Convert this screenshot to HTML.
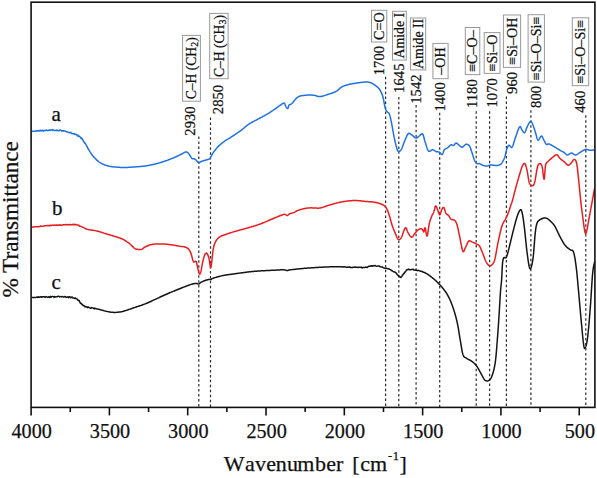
<!DOCTYPE html>
<html><head><meta charset="utf-8"><style>
html,body{margin:0;padding:0;background:#fff;width:597px;height:478px;overflow:hidden}
svg{display:block}
text{font-family:"Liberation Serif",serif;stroke:#111;stroke-width:0.25px}
</style></head><body>
<svg width="597" height="478" viewBox="0 0 597 478">
<rect width="597" height="478" fill="#fff"/>
<line x1="198.80" y1="136.60" x2="198.80" y2="407.40" stroke="#2a2a2a" stroke-width="1.2" stroke-dasharray="2.5 2.45"/>
<line x1="210.50" y1="117.50" x2="210.50" y2="407.40" stroke="#2a2a2a" stroke-width="1.2" stroke-dasharray="2.5 2.45"/>
<line x1="385.60" y1="76.80" x2="385.60" y2="407.40" stroke="#2a2a2a" stroke-width="1.2" stroke-dasharray="2.5 2.45"/>
<line x1="398.80" y1="96.90" x2="398.80" y2="407.40" stroke="#2a2a2a" stroke-width="1.2" stroke-dasharray="2.5 2.45"/>
<line x1="416.10" y1="105.00" x2="416.10" y2="407.40" stroke="#2a2a2a" stroke-width="1.2" stroke-dasharray="2.5 2.45"/>
<line x1="439.70" y1="112.70" x2="439.70" y2="407.40" stroke="#2a2a2a" stroke-width="1.2" stroke-dasharray="2.5 2.45"/>
<line x1="476.20" y1="111.30" x2="476.20" y2="407.40" stroke="#2a2a2a" stroke-width="1.2" stroke-dasharray="2.5 2.45"/>
<line x1="489.60" y1="111.30" x2="489.60" y2="407.40" stroke="#2a2a2a" stroke-width="1.2" stroke-dasharray="2.5 2.45"/>
<line x1="506.40" y1="96.60" x2="506.40" y2="407.40" stroke="#2a2a2a" stroke-width="1.2" stroke-dasharray="2.5 2.45"/>
<line x1="530.90" y1="110.30" x2="530.90" y2="407.40" stroke="#2a2a2a" stroke-width="1.2" stroke-dasharray="2.5 2.45"/>
<line x1="585.80" y1="115.30" x2="585.80" y2="407.40" stroke="#2a2a2a" stroke-width="1.2" stroke-dasharray="2.5 2.45"/>
<path d="M31.70 131.40 L32.07 131.37 L32.54 131.34 L33.08 131.30 L33.69 131.26 L34.36 131.21 L35.07 131.16 L35.80 131.10 L36.55 130.76 L37.29 131.05 L38.02 130.80 L38.73 131.01 L39.39 130.98 L40.00 130.32 L40.67 130.21 L41.30 131.07 L41.92 130.38 L42.52 130.31 L43.10 131.09 L43.68 130.47 L44.26 130.83 L44.85 130.39 L45.45 130.52 L46.06 129.95 L46.70 130.45 L47.30 130.67 L47.90 130.26 L48.50 130.47 L49.11 130.36 L49.72 129.67 L50.34 130.40 L50.97 130.20 L51.61 129.86 L52.27 129.56 L52.93 130.47 L53.61 130.05 L54.30 130.34 L54.87 130.54 L55.45 130.38 L56.05 130.64 L56.66 130.09 L57.28 130.58 L57.90 130.22 L58.53 130.81 L59.17 130.80 L59.80 130.00 L60.43 130.10 L61.06 130.26 L61.69 131.15 L62.30 130.65 L62.91 130.95 L63.50 130.68 L64.13 131.02 L64.76 131.00 L65.38 131.08 L66.01 131.47 L66.63 131.61 L67.25 132.11 L67.86 132.01 L68.46 132.44 L69.06 132.52 L69.65 132.84 L70.23 132.66 L70.80 132.27 L71.35 133.22 L71.90 133.51 L72.52 133.66 L73.13 133.50 L73.73 133.88 L74.32 133.54 L74.90 134.45 L75.46 134.40 L76.01 134.33 L76.56 134.34 L77.08 135.48 L77.60 135.91 L78.11 135.22 L78.60 136.33 L79.12 136.27 L79.61 136.36 L80.09 136.90 L80.54 137.82 L80.99 138.36 L81.42 137.88 L81.85 138.97 L82.28 138.84 L82.71 140.10 L83.15 140.22 L83.60 141.42 L83.91 141.96 L84.22 141.90 L84.54 142.93 L84.85 142.67 L85.16 143.15 L85.47 144.00 L85.78 144.21 L86.09 144.86 L86.41 145.55 L86.72 146.23 L87.03 146.52 L87.34 147.01 L87.66 148.05 L87.97 148.26 L88.28 149.17 L88.60 149.64 L88.93 149.86 L89.26 150.43 L89.59 151.00 L89.91 151.59 L90.23 152.08 L90.56 152.58 L90.88 153.12 L91.21 153.82 L91.54 154.06 L91.88 154.51 L92.22 155.17 L92.58 155.36 L92.94 155.87 L93.31 156.74 L93.70 156.91 L94.13 157.41 L94.56 157.56 L95.00 158.27 L95.45 158.83 L95.91 158.94 L96.38 159.75 L96.85 160.19 L97.33 160.27 L97.82 161.03 L98.32 161.35 L98.83 161.74 L99.34 162.11 L99.87 162.46 L100.40 162.80 L100.94 163.12 L101.49 163.43 L102.04 163.72 L102.60 163.99 L103.17 164.26 L103.75 164.51 L104.34 164.74 L104.93 164.97 L105.54 165.18 L106.15 165.39 L106.77 165.58 L107.41 165.76 L108.05 165.94 L108.70 166.10 L109.29 166.23 L109.90 166.36 L110.54 166.47 L111.19 166.57 L111.85 166.66 L112.53 166.75 L113.20 166.82 L113.88 166.89 L114.55 166.96 L115.22 167.02 L115.87 167.07 L116.51 167.12 L117.12 167.17 L117.71 167.21 L118.27 167.26 L118.80 167.30 L119.56 167.36 L120.23 167.42 L120.83 167.46 L121.38 167.49 L121.91 167.51 L122.43 167.53 L122.98 167.53 L123.58 167.53 L124.24 167.52 L125.00 167.50 L125.52 167.49 L126.07 167.47 L126.64 167.44 L127.23 167.41 L127.84 167.38 L128.47 167.35 L129.11 167.31 L129.76 167.27 L130.41 167.23 L131.08 167.18 L131.74 167.14 L132.40 167.09 L133.06 167.04 L133.72 166.99 L134.37 166.95 L135.00 166.90 L135.63 166.85 L136.26 166.81 L136.89 166.77 L137.52 166.72 L138.15 166.68 L138.78 166.63 L139.41 166.59 L140.04 166.54 L140.68 166.49 L141.31 166.43 L141.94 166.37 L142.57 166.31 L143.20 166.24 L143.84 166.17 L144.47 166.09 L145.10 166.00 L145.69 165.91 L146.29 165.82 L146.88 165.73 L147.48 165.63 L148.07 165.52 L148.67 165.42 L149.26 165.30 L149.86 165.19 L150.45 165.07 L151.05 164.95 L151.64 164.82 L152.24 164.70 L152.83 164.56 L153.42 164.43 L154.02 164.29 L154.61 164.15 L155.20 164.00 L155.79 163.85 L156.38 163.70 L156.97 163.54 L157.56 163.38 L158.15 163.22 L158.73 163.05 L159.32 162.88 L159.91 162.71 L160.49 162.53 L161.08 162.35 L161.67 162.17 L162.25 161.98 L162.84 161.79 L163.43 161.60 L164.02 161.40 L164.61 161.20 L165.20 161.00 L165.76 160.80 L166.34 160.60 L166.92 160.40 L167.50 160.18 L168.09 159.97 L168.69 159.74 L169.28 159.52 L169.87 159.30 L170.46 159.07 L171.04 158.84 L171.61 158.61 L172.18 158.39 L172.74 158.16 L173.28 157.94 L173.81 157.73 L174.33 157.51 L174.82 157.30 L175.30 157.10 L175.99 156.80 L176.65 156.50 L177.29 156.20 L177.91 155.90 L178.50 155.60 L179.08 155.31 L179.62 155.03 L180.14 154.76 L180.64 154.50 L181.12 154.25 L181.57 154.02 L182.00 153.80 L182.76 153.40 L183.38 153.03 L183.91 152.71 L184.39 152.44 L184.84 152.24 L185.30 152.10 L185.98 152.00 L186.60 152.03 L187.19 152.22 L187.80 152.60 L188.16 152.94 L188.54 153.39 L188.91 153.90 L189.28 154.45 L189.64 155.01 L189.98 155.54 L190.30 156.00 L190.69 156.59 L191.02 157.17 L191.34 157.70 L191.65 158.16 L192.00 158.50 L192.64 158.72 L193.31 158.70 L194.00 158.80 L194.53 159.04 L195.07 159.36 L195.62 159.74 L196.20 160.20 L196.60 160.61 L197.01 161.12 L197.43 161.67 L197.86 162.18 L198.28 162.58 L198.70 162.80 L199.29 162.75 L199.84 162.39 L200.46 161.92 L201.20 161.50 L201.71 161.32 L202.28 161.13 L202.88 160.95 L203.51 160.76 L204.15 160.58 L204.79 160.39 L205.40 160.20 L206.02 160.02 L206.67 159.85 L207.33 159.68 L207.97 159.50 L208.58 159.30 L209.13 159.07 L209.60 158.80 L210.09 158.35 L210.42 157.85 L210.68 157.29 L210.95 156.67 L211.30 156.00 L211.56 155.55 L211.81 155.09 L212.07 154.60 L212.34 154.09 L212.64 153.56 L212.98 153.00 L213.36 152.42 L213.80 151.80 L214.13 151.36 L214.47 150.90 L214.85 150.42 L215.24 149.93 L215.65 149.42 L216.07 148.90 L216.51 148.38 L216.95 147.86 L217.41 147.35 L217.87 146.85 L218.33 146.37 L218.80 145.90 L219.24 145.48 L219.70 145.06 L220.17 144.65 L220.66 144.23 L221.15 143.82 L221.65 143.42 L222.15 143.03 L222.65 142.64 L223.14 142.27 L223.63 141.91 L224.10 141.56 L224.56 141.22 L225.00 140.90 L225.58 140.49 L226.09 140.15 L226.57 139.86 L227.02 139.59 L227.49 139.32 L228.00 139.03 L228.57 138.69 L229.23 138.29 L230.00 137.80 L230.39 137.55 L230.81 137.28 L231.25 136.99 L231.72 136.69 L232.21 136.38 L232.71 136.05 L233.23 135.72 L233.75 135.38 L234.29 135.03 L234.84 134.67 L235.39 134.32 L235.94 133.95 L236.49 133.59 L237.03 133.22 L237.57 132.86 L238.11 132.50 L238.63 132.14 L239.14 131.79 L239.63 131.44 L240.10 131.10 L240.64 130.70 L241.17 130.30 L241.68 129.89 L242.19 129.48 L242.70 129.07 L243.19 128.65 L243.68 128.24 L244.17 127.83 L244.65 127.42 L245.13 127.02 L245.60 126.62 L246.08 126.22 L246.56 125.84 L247.04 125.46 L247.52 125.10 L248.01 124.74 L248.50 124.40 L249.02 124.05 L249.54 123.72 L250.05 123.40 L250.56 123.10 L251.07 122.81 L251.58 122.52 L252.09 122.24 L252.60 121.97 L253.11 121.70 L253.63 121.43 L254.16 121.15 L254.69 120.88 L255.23 120.60 L255.77 120.31 L256.33 120.01 L256.90 119.70 L257.42 119.42 L257.95 119.13 L258.49 118.84 L259.05 118.55 L259.61 118.25 L260.17 117.96 L260.75 117.66 L261.32 117.35 L261.90 117.05 L262.48 116.75 L263.05 116.44 L263.63 116.13 L264.19 115.83 L264.75 115.52 L265.31 115.21 L265.85 114.91 L266.38 114.60 L266.90 114.30 L267.47 113.96 L268.03 113.62 L268.59 113.27 L269.13 112.93 L269.67 112.58 L270.21 112.24 L270.73 111.89 L271.26 111.54 L271.77 111.20 L272.29 110.85 L272.80 110.51 L273.30 110.16 L273.80 109.82 L274.30 109.48 L274.80 109.14 L275.30 108.80 L275.84 108.43 L276.39 108.04 L276.95 107.64 L277.52 107.23 L278.08 106.82 L278.64 106.41 L279.20 106.01 L279.74 105.61 L280.26 105.23 L280.76 104.87 L281.24 104.53 L281.69 104.22 L282.10 103.94 L282.47 103.70 L282.80 103.50 L284.01 102.94 L284.50 103.50 L284.78 103.92 L285.07 104.51 L285.36 105.21 L285.64 105.93 L285.92 106.59 L286.20 107.10 L286.76 107.91 L287.30 108.47 L287.80 108.50 L288.00 108.19 L288.16 107.66 L288.31 106.99 L288.48 106.28 L288.70 105.62 L289.00 105.10 L289.48 104.71 L290.05 104.46 L290.68 104.24 L291.35 103.96 L292.00 103.50 L292.36 103.14 L292.71 102.72 L293.07 102.25 L293.44 101.75 L293.81 101.23 L294.19 100.71 L294.58 100.21 L294.98 99.73 L295.40 99.30 L295.86 98.85 L296.32 98.40 L296.77 97.97 L297.24 97.56 L297.75 97.17 L298.30 96.81 L298.91 96.48 L299.60 96.20 L300.12 96.03 L300.69 95.89 L301.30 95.76 L301.95 95.64 L302.62 95.54 L303.30 95.46 L303.99 95.38 L304.66 95.31 L305.32 95.25 L305.96 95.20 L306.55 95.15 L307.10 95.10 L307.86 95.04 L308.57 95.01 L309.25 95.00 L309.89 95.01 L310.49 95.02 L311.06 95.05 L311.59 95.07 L312.10 95.10 L312.92 95.16 L313.54 95.23 L314.16 95.34 L315.00 95.50 L315.52 95.63 L316.09 95.80 L316.68 96.00 L317.32 96.21 L317.99 96.39 L318.69 96.53 L319.43 96.61 L320.20 96.60 L320.74 96.54 L321.30 96.45 L321.87 96.32 L322.47 96.17 L323.08 96.00 L323.71 95.81 L324.34 95.60 L324.99 95.39 L325.64 95.16 L326.29 94.94 L326.94 94.72 L327.60 94.50 L328.17 94.32 L328.76 94.13 L329.36 93.95 L329.96 93.76 L330.58 93.57 L331.20 93.37 L331.82 93.17 L332.44 92.96 L333.05 92.74 L333.65 92.51 L334.24 92.28 L334.81 92.03 L335.37 91.77 L335.90 91.50 L336.45 91.18 L336.98 90.83 L337.49 90.46 L337.99 90.07 L338.47 89.66 L338.94 89.25 L339.41 88.84 L339.87 88.43 L340.33 88.04 L340.79 87.66 L341.25 87.31 L341.72 86.99 L342.20 86.70 L342.77 86.41 L343.32 86.15 L343.86 85.92 L344.41 85.72 L344.95 85.53 L345.50 85.37 L346.06 85.21 L346.64 85.06 L347.23 84.91 L347.85 84.76 L348.50 84.60 L349.03 84.47 L349.58 84.34 L350.14 84.21 L350.72 84.09 L351.31 83.96 L351.91 83.84 L352.52 83.72 L353.13 83.61 L353.75 83.50 L354.36 83.39 L354.98 83.29 L355.59 83.19 L356.20 83.09 L356.80 83.00 L357.40 82.91 L358.02 82.82 L358.65 82.74 L359.29 82.65 L359.92 82.57 L360.56 82.49 L361.19 82.42 L361.82 82.35 L362.43 82.29 L363.03 82.23 L363.61 82.19 L364.17 82.15 L364.70 82.12 L365.20 82.10 L366.00 82.08 L366.72 82.07 L367.38 82.07 L367.99 82.10 L368.58 82.16 L369.17 82.26 L369.77 82.40 L370.40 82.60 L370.93 82.80 L371.47 83.04 L372.02 83.30 L372.57 83.60 L373.11 83.92 L373.65 84.26 L374.19 84.61 L374.71 84.97 L375.21 85.33 L375.70 85.70 L376.22 86.10 L376.73 86.50 L377.22 86.90 L377.70 87.32 L378.17 87.76 L378.62 88.23 L379.06 88.74 L379.49 89.29 L379.90 89.90 L380.18 90.35 L380.45 90.82 L380.71 91.31 L380.97 91.81 L381.22 92.34 L381.46 92.88 L381.70 93.44 L381.93 94.02 L382.16 94.62 L382.38 95.23 L382.59 95.87 L382.80 96.53 L383.00 97.20 L383.15 97.74 L383.29 98.33 L383.43 98.94 L383.56 99.59 L383.69 100.25 L383.82 100.93 L383.94 101.61 L384.05 102.31 L384.17 102.99 L384.29 103.67 L384.40 104.34 L384.51 104.98 L384.63 105.60 L384.74 106.19 L384.86 106.74 L384.98 107.24 L385.10 107.70 L385.40 108.64 L385.70 109.40 L386.00 110.01 L386.30 110.52 L386.60 110.96 L386.90 111.38 L387.20 111.80 L387.72 112.32 L388.25 112.58 L388.77 112.98 L389.30 113.90 L389.45 114.29 L389.59 114.70 L389.73 115.13 L389.87 115.60 L390.01 116.09 L390.15 116.62 L390.29 117.19 L390.43 117.79 L390.58 118.43 L390.73 119.11 L390.88 119.84 L391.05 120.61 L391.22 121.43 L391.40 122.30 L391.49 122.76 L391.59 123.25 L391.69 123.76 L391.79 124.30 L391.89 124.85 L392.00 125.42 L392.10 126.01 L392.21 126.62 L392.32 127.24 L392.43 127.86 L392.55 128.50 L392.66 129.15 L392.77 129.80 L392.89 130.46 L393.00 131.11 L393.12 131.77 L393.24 132.43 L393.35 133.08 L393.47 133.73 L393.59 134.37 L393.70 135.00 L393.82 135.62 L393.93 136.22 L394.05 136.81 L394.16 137.39 L394.28 137.95 L394.39 138.48 L394.50 139.00 L394.66 139.74 L394.83 140.48 L395.00 141.22 L395.17 141.95 L395.34 142.67 L395.51 143.38 L395.68 144.08 L395.86 144.76 L396.03 145.43 L396.20 146.07 L396.37 146.69 L396.53 147.28 L396.69 147.84 L396.86 148.38 L397.01 148.88 L397.17 149.34 L397.32 149.77 L397.46 150.16 L397.60 150.50 L398.37 151.66 L399.04 151.62 L399.70 151.20 L400.10 150.97 L400.49 150.64 L400.88 150.15 L401.31 149.46 L401.80 148.50 L401.99 148.07 L402.20 147.58 L402.41 147.04 L402.63 146.46 L402.85 145.85 L403.08 145.20 L403.32 144.54 L403.56 143.87 L403.80 143.20 L404.04 142.53 L404.28 141.88 L404.52 141.26 L404.76 140.66 L405.00 140.10 L405.28 139.46 L405.56 138.80 L405.84 138.14 L406.12 137.47 L406.41 136.82 L406.69 136.19 L406.98 135.60 L407.27 135.05 L407.55 134.55 L407.84 134.12 L408.12 133.77 L408.40 133.50 L409.05 133.22 L409.68 133.36 L410.32 133.76 L410.98 134.29 L411.70 134.80 L412.19 135.15 L412.71 135.61 L413.25 136.13 L413.80 136.66 L414.35 137.17 L414.89 137.61 L415.41 137.93 L415.90 138.10 L416.50 138.06 L417.06 137.80 L417.60 137.38 L418.13 136.89 L418.65 136.41 L419.20 136.00 L419.77 135.55 L420.36 134.96 L420.95 134.38 L421.53 133.94 L422.08 133.77 L422.60 134.00 L422.82 134.28 L423.03 134.65 L423.22 135.10 L423.41 135.63 L423.59 136.22 L423.76 136.86 L423.94 137.54 L424.11 138.25 L424.29 138.98 L424.48 139.70 L424.67 140.42 L424.88 141.13 L425.10 141.80 L425.29 142.36 L425.48 142.95 L425.67 143.59 L425.87 144.25 L426.07 144.92 L426.28 145.61 L426.49 146.29 L426.70 146.97 L426.92 147.63 L427.13 148.26 L427.36 148.85 L427.58 149.41 L427.81 149.90 L428.04 150.34 L428.27 150.71 L428.50 151.00 L429.06 151.34 L429.64 151.30 L430.24 151.01 L430.86 150.59 L431.46 150.15 L432.04 149.81 L432.60 149.70 L433.21 149.83 L433.79 150.11 L434.35 150.47 L434.90 150.87 L435.45 151.23 L436.00 151.50 L436.67 151.69 L437.35 151.79 L438.01 151.86 L438.67 151.98 L439.30 152.20 L439.81 152.56 L440.32 153.08 L440.82 153.64 L441.30 154.12 L441.76 154.42 L442.20 154.40 L442.50 154.12 L442.77 153.65 L443.03 153.02 L443.27 152.31 L443.53 151.57 L443.79 150.85 L444.08 150.21 L444.40 149.70 L444.89 149.22 L445.41 148.87 L445.97 148.59 L446.55 148.33 L447.13 148.05 L447.70 147.70 L448.19 147.30 L448.69 146.83 L449.20 146.33 L449.70 145.84 L450.19 145.39 L450.66 145.03 L451.10 144.80 L451.79 144.80 L452.41 145.12 L453.00 145.47 L453.60 145.50 L454.10 145.14 L454.60 144.52 L455.10 143.84 L455.60 143.28 L456.10 143.00 L456.59 143.08 L457.06 143.38 L457.54 143.83 L458.04 144.33 L458.60 144.80 L459.11 145.23 L459.64 145.75 L460.20 146.29 L460.78 146.77 L461.38 147.10 L462.00 147.20 L462.48 147.06 L462.99 146.74 L463.52 146.30 L464.05 145.79 L464.58 145.28 L465.11 144.83 L465.62 144.48 L466.10 144.30 L466.72 144.26 L467.32 144.34 L467.90 144.55 L468.46 144.89 L468.99 145.37 L469.50 146.00 L469.76 146.42 L470.01 146.90 L470.25 147.44 L470.48 148.03 L470.70 148.66 L470.91 149.31 L471.13 149.99 L471.34 150.67 L471.56 151.36 L471.78 152.04 L472.00 152.70 L472.19 153.27 L472.38 153.86 L472.58 154.48 L472.77 155.11 L472.96 155.75 L473.15 156.39 L473.35 157.03 L473.54 157.65 L473.73 158.25 L473.92 158.82 L474.12 159.36 L474.31 159.85 L474.50 160.30 L474.92 161.14 L475.33 161.84 L475.75 162.43 L476.17 162.90 L476.58 163.29 L477.00 163.60 L477.60 163.79 L478.19 163.70 L478.81 163.56 L479.50 163.60 L480.01 163.80 L480.54 164.07 L481.09 164.40 L481.67 164.74 L482.28 165.05 L482.90 165.30 L483.47 165.48 L484.07 165.65 L484.69 165.81 L485.32 165.94 L485.94 166.04 L486.54 166.10 L487.10 166.10 L487.82 165.96 L488.48 165.69 L489.12 165.36 L489.75 165.07 L490.40 164.90 L491.06 164.88 L491.71 164.96 L492.38 165.09 L493.07 165.22 L493.80 165.30 L494.46 165.34 L495.17 165.39 L495.91 165.43 L496.64 165.44 L497.34 165.40 L498.00 165.30 L498.60 165.16 L499.17 165.01 L499.71 164.81 L500.24 164.53 L500.77 164.14 L501.30 163.60 L501.60 163.24 L501.90 162.84 L502.20 162.41 L502.50 161.94 L502.80 161.43 L503.10 160.90 L503.39 160.33 L503.68 159.74 L503.96 159.12 L504.24 158.47 L504.50 157.80 L504.69 157.27 L504.87 156.70 L505.05 156.08 L505.23 155.44 L505.40 154.77 L505.57 154.09 L505.74 153.40 L505.90 152.71 L506.06 152.03 L506.22 151.36 L506.38 150.73 L506.54 150.12 L506.69 149.56 L506.85 149.05 L507.00 148.60 L507.36 147.64 L507.70 146.84 L508.02 146.20 L508.35 145.72 L508.70 145.39 L509.10 145.20 L509.54 145.35 L510.02 145.89 L510.53 146.58 L511.04 147.19 L511.57 147.47 L512.10 147.20 L512.30 146.92 L512.49 146.57 L512.69 146.15 L512.88 145.67 L513.08 145.13 L513.28 144.54 L513.47 143.92 L513.67 143.26 L513.88 142.57 L514.08 141.87 L514.29 141.16 L514.50 140.44 L514.72 139.73 L514.94 139.03 L515.17 138.35 L515.40 137.70 L515.60 137.14 L515.81 136.54 L516.03 135.91 L516.25 135.25 L516.48 134.57 L516.72 133.87 L516.95 133.17 L517.19 132.48 L517.43 131.78 L517.67 131.11 L517.91 130.45 L518.14 129.83 L518.37 129.23 L518.59 128.68 L518.81 128.18 L519.02 127.74 L519.23 127.35 L519.42 127.04 L519.60 126.80 L520.05 126.54 L520.44 126.76 L520.79 127.30 L521.12 128.06 L521.44 128.88 L521.76 129.64 L522.10 130.20 L522.60 130.89 L523.10 131.67 L523.59 132.35 L524.09 132.75 L524.60 132.70 L524.85 132.45 L525.10 132.05 L525.35 131.53 L525.60 130.92 L525.85 130.24 L526.10 129.53 L526.37 128.80 L526.63 128.08 L526.91 127.41 L527.20 126.80 L527.51 126.20 L527.83 125.54 L528.16 124.86 L528.51 124.17 L528.86 123.50 L529.20 122.88 L529.55 122.34 L529.88 121.89 L530.20 121.57 L530.50 121.40 L530.90 121.42 L531.27 121.68 L531.63 122.14 L531.97 122.76 L532.31 123.49 L532.65 124.29 L533.00 125.10 L533.19 125.56 L533.38 126.06 L533.58 126.59 L533.77 127.15 L533.96 127.74 L534.15 128.35 L534.35 128.98 L534.54 129.61 L534.73 130.24 L534.92 130.87 L535.12 131.50 L535.31 132.11 L535.50 132.70 L535.69 133.31 L535.88 133.98 L536.06 134.68 L536.24 135.40 L536.42 136.12 L536.60 136.84 L536.79 137.53 L536.97 138.17 L537.16 138.76 L537.36 139.27 L537.57 139.69 L537.78 140.01 L538.00 140.20 L538.34 140.20 L538.71 139.89 L539.10 139.36 L539.50 138.67 L539.90 137.93 L540.30 137.21 L540.69 136.59 L541.06 136.16 L541.40 136.00 L541.76 136.12 L542.09 136.46 L542.40 136.96 L542.71 137.57 L543.00 138.26 L543.30 138.95 L543.59 139.62 L543.90 140.20 L544.21 140.76 L544.52 141.36 L544.84 141.98 L545.15 142.59 L545.46 143.17 L545.77 143.68 L546.09 144.10 L546.40 144.40 L546.99 144.54 L547.54 144.28 L548.16 143.95 L548.90 143.90 L549.41 144.07 L549.98 144.32 L550.58 144.64 L551.21 144.99 L551.85 145.37 L552.49 145.75 L553.10 146.10 L553.63 146.40 L554.15 146.70 L554.67 147.02 L555.20 147.33 L555.73 147.65 L556.25 147.97 L556.77 148.29 L557.30 148.60 L557.84 148.92 L558.39 149.25 L558.94 149.59 L559.49 149.92 L560.03 150.24 L560.56 150.55 L561.05 150.84 L561.50 151.10 L562.13 151.43 L562.66 151.69 L563.16 151.91 L563.65 152.17 L564.20 152.50 L564.69 152.91 L565.20 153.42 L565.71 153.96 L566.25 154.46 L566.81 154.83 L567.40 155.00 L567.94 154.92 L568.50 154.64 L569.09 154.25 L569.69 153.81 L570.30 153.41 L570.90 153.12 L571.50 153.00 L572.09 153.12 L572.67 153.43 L573.25 153.84 L573.83 154.29 L574.43 154.68 L575.05 154.95 L575.70 155.00 L576.23 154.88 L576.77 154.64 L577.34 154.32 L577.91 153.94 L578.49 153.52 L579.07 153.08 L579.66 152.65 L580.23 152.25 L580.80 151.90 L581.36 151.58 L581.93 151.24 L582.50 150.90 L583.07 150.56 L583.64 150.24 L584.20 149.96 L584.74 149.72 L585.28 149.53 L585.80 149.40 L586.44 149.36 L587.05 149.45 L587.64 149.62 L588.22 149.83 L588.80 150.04 L589.39 150.21 L590.00 150.30 L590.67 150.31 L591.40 150.27 L592.14 150.20 L592.87 150.11 L593.53 150.02 L594.09 149.95 L594.50 149.90" fill="none" stroke="#1f72e6" stroke-width="1.5" stroke-linejoin="round"/>
<path d="M31.70 227.20 L32.04 227.16 L32.44 227.12 L32.89 227.07 L33.40 227.02 L33.94 226.96 L34.53 226.90 L35.15 226.83 L35.80 226.76 L36.47 226.76 L37.17 226.76 L37.87 226.72 L38.59 226.73 L39.31 226.53 L40.02 226.57 L40.73 225.96 L41.43 226.16 L42.11 226.38 L42.77 226.14 L43.40 226.24 L44.01 225.72 L44.61 225.88 L45.21 225.70 L45.80 225.83 L46.39 225.80 L46.98 225.42 L47.56 225.49 L48.15 225.49 L48.74 225.83 L49.33 225.70 L49.93 225.29 L50.54 225.63 L51.15 225.20 L51.78 225.45 L52.41 225.12 L53.06 225.01 L53.73 225.49 L54.40 225.06 L55.10 225.03 L55.65 225.46 L56.22 225.37 L56.81 225.00 L57.42 225.37 L58.05 225.10 L58.69 225.15 L59.34 224.85 L60.00 225.26 L60.67 225.09 L61.34 225.23 L62.01 225.17 L62.68 224.79 L63.35 224.81 L64.01 224.67 L64.66 224.64 L65.30 224.57 L65.93 224.69 L66.54 224.86 L67.14 224.48 L67.71 224.87 L68.27 224.65 L68.79 224.62 L69.29 224.91 L69.76 224.70 L70.20 224.59 L71.26 224.65 L72.13 224.75 L72.85 224.32 L73.46 224.83 L73.99 224.24 L74.48 224.67 L74.97 224.75 L75.50 224.31 L76.10 224.87 L76.68 224.75 L77.26 225.04 L77.84 224.89 L78.42 225.14 L79.00 225.45 L79.58 226.17 L80.16 226.15 L80.74 226.41 L81.32 226.66 L81.90 226.90 L82.47 227.14 L83.02 227.40 L83.56 227.66 L84.09 227.92 L84.64 228.19 L85.20 228.45 L85.78 228.71 L86.41 228.95 L87.08 229.19 L87.80 229.40 L88.32 229.53 L88.87 229.65 L89.44 229.76 L90.04 229.87 L90.65 229.96 L91.28 230.06 L91.92 230.15 L92.57 230.24 L93.22 230.33 L93.87 230.43 L94.52 230.53 L95.16 230.63 L95.79 230.74 L96.40 230.87 L97.00 231.00 L97.62 231.16 L98.24 231.32 L98.85 231.49 L99.46 231.67 L100.06 231.86 L100.66 232.05 L101.25 232.24 L101.84 232.44 L102.43 232.64 L103.02 232.84 L103.61 233.03 L104.21 233.23 L104.80 233.41 L105.40 233.60 L106.00 233.78 L106.60 233.96 L107.20 234.14 L107.80 234.31 L108.40 234.49 L109.01 234.66 L109.61 234.84 L110.21 235.01 L110.81 235.19 L111.41 235.37 L112.01 235.55 L112.61 235.73 L113.20 235.91 L113.80 236.10 L114.40 236.29 L115.02 236.48 L115.64 236.68 L116.27 236.87 L116.90 237.07 L117.53 237.27 L118.16 237.47 L118.77 237.67 L119.38 237.87 L119.96 238.08 L120.53 238.28 L121.08 238.49 L121.61 238.69 L122.10 238.90 L122.82 239.23 L123.49 239.57 L124.12 239.92 L124.71 240.27 L125.27 240.62 L125.79 240.96 L126.28 241.29 L126.75 241.61 L127.20 241.90 L127.87 242.34 L128.38 242.68 L128.83 243.02 L129.34 243.43 L130.00 244.00 L130.38 244.34 L130.80 244.74 L131.26 245.18 L131.74 245.65 L132.24 246.14 L132.74 246.63 L133.24 247.11 L133.72 247.56 L134.18 247.97 L134.61 248.32 L135.00 248.60 L135.72 249.00 L136.32 249.19 L136.86 249.25 L137.40 249.26 L138.00 249.30 L138.67 249.40 L139.36 249.50 L140.07 249.57 L140.79 249.55 L141.50 249.40 L141.98 249.19 L142.43 248.90 L142.87 248.55 L143.33 248.17 L143.84 247.77 L144.42 247.37 L145.10 247.00 L145.58 246.77 L146.08 246.53 L146.61 246.27 L147.17 246.02 L147.74 245.76 L148.35 245.51 L148.98 245.27 L149.64 245.05 L150.33 244.84 L151.05 244.66 L151.80 244.50 L152.34 244.41 L152.90 244.32 L153.48 244.25 L154.09 244.18 L154.71 244.12 L155.34 244.07 L155.99 244.02 L156.64 243.98 L157.31 243.95 L157.97 243.92 L158.64 243.91 L159.30 243.89 L159.96 243.89 L160.62 243.89 L161.27 243.89 L161.90 243.90 L162.53 243.92 L163.17 243.95 L163.81 243.98 L164.45 244.03 L165.10 244.08 L165.74 244.14 L166.38 244.21 L167.03 244.28 L167.66 244.35 L168.29 244.43 L168.92 244.50 L169.54 244.58 L170.14 244.66 L170.74 244.74 L171.33 244.82 L171.90 244.90 L172.60 245.00 L173.29 245.10 L173.98 245.21 L174.66 245.33 L175.33 245.45 L175.99 245.57 L176.63 245.69 L177.26 245.81 L177.86 245.92 L178.44 246.03 L178.99 246.13 L179.51 246.22 L180.00 246.30 L180.80 246.40 L181.48 246.46 L182.07 246.49 L182.60 246.52 L183.11 246.57 L183.63 246.65 L184.20 246.80 L184.81 246.99 L185.45 247.21 L186.08 247.45 L186.71 247.73 L187.32 248.06 L187.88 248.45 L188.40 248.90 L188.80 249.35 L189.17 249.83 L189.51 250.36 L189.83 250.92 L190.13 251.53 L190.42 252.18 L190.71 252.87 L191.00 253.60 L191.19 254.14 L191.39 254.74 L191.57 255.39 L191.76 256.07 L191.94 256.77 L192.12 257.48 L192.29 258.17 L192.46 258.83 L192.63 259.45 L192.79 260.01 L192.95 260.50 L193.10 260.90 L193.64 261.79 L194.11 261.99 L194.60 262.00 L195.39 261.34 L196.20 261.40 L196.35 261.74 L196.49 262.20 L196.64 262.75 L196.78 263.37 L196.93 264.05 L197.07 264.76 L197.22 265.49 L197.36 266.22 L197.51 266.92 L197.65 267.59 L197.80 268.20 L197.96 268.86 L198.12 269.56 L198.28 270.28 L198.44 271.00 L198.61 271.69 L198.77 272.33 L198.93 272.91 L199.09 273.39 L199.24 273.76 L199.40 274.00 L199.70 274.11 L200.00 273.84 L200.30 273.26 L200.60 272.43 L200.90 271.40 L201.01 270.98 L201.12 270.50 L201.23 269.97 L201.34 269.41 L201.44 268.80 L201.55 268.17 L201.66 267.52 L201.77 266.86 L201.89 266.19 L202.00 265.53 L202.12 264.86 L202.24 264.22 L202.37 263.60 L202.50 263.00 L202.65 262.36 L202.80 261.71 L202.96 261.04 L203.12 260.37 L203.28 259.70 L203.45 259.03 L203.62 258.38 L203.79 257.76 L203.96 257.16 L204.13 256.60 L204.29 256.08 L204.45 255.61 L204.60 255.20 L205.08 254.19 L205.55 253.57 L205.99 253.24 L206.40 253.10 L206.86 253.19 L207.26 253.69 L207.70 254.60 L207.87 255.01 L208.04 255.47 L208.23 255.99 L208.41 256.56 L208.60 257.16 L208.79 257.81 L208.97 258.48 L209.14 259.18 L209.30 259.90 L209.41 260.45 L209.51 261.09 L209.61 261.79 L209.70 262.53 L209.80 263.29 L209.89 264.05 L209.98 264.79 L210.06 265.50 L210.15 266.14 L210.24 266.70 L210.32 267.16 L210.41 267.50 L210.50 267.70 L210.64 267.76 L210.77 267.59 L210.91 267.20 L211.04 266.62 L211.17 265.88 L211.31 265.02 L211.45 264.05 L211.60 263.00 L211.66 262.54 L211.73 262.04 L211.79 261.49 L211.86 260.90 L211.93 260.28 L211.99 259.63 L212.06 258.95 L212.13 258.26 L212.20 257.56 L212.27 256.85 L212.35 256.14 L212.42 255.43 L212.49 254.73 L212.56 254.04 L212.64 253.37 L212.71 252.73 L212.78 252.11 L212.85 251.53 L212.93 250.99 L213.00 250.50 L213.14 249.61 L213.28 248.81 L213.42 248.09 L213.56 247.43 L213.71 246.83 L213.85 246.27 L214.00 245.74 L214.16 245.23 L214.33 244.72 L214.50 244.20 L214.77 243.47 L215.05 242.80 L215.34 242.16 L215.65 241.57 L215.96 241.01 L216.28 240.49 L216.60 240.00 L217.06 239.38 L217.54 238.83 L218.03 238.35 L218.52 237.91 L219.00 237.50 L219.55 237.05 L220.07 236.68 L220.63 236.34 L221.30 236.00 L221.78 235.79 L222.26 235.61 L222.77 235.43 L223.37 235.24 L224.10 235.00 L225.00 234.70 L225.44 234.55 L225.91 234.39 L226.40 234.22 L226.91 234.04 L227.45 233.85 L228.01 233.65 L228.59 233.45 L229.20 233.24 L229.84 233.03 L230.50 232.81 L231.18 232.59 L231.90 232.36 L232.63 232.13 L233.40 231.90 L233.88 231.76 L234.38 231.61 L234.90 231.47 L235.43 231.32 L235.98 231.16 L236.54 231.01 L237.11 230.86 L237.69 230.70 L238.28 230.54 L238.88 230.38 L239.48 230.22 L240.09 230.06 L240.71 229.89 L241.32 229.73 L241.94 229.56 L242.56 229.39 L243.18 229.22 L243.79 229.05 L244.41 228.88 L245.02 228.71 L245.62 228.54 L246.21 228.37 L246.80 228.20 L247.39 228.03 L247.98 227.85 L248.57 227.68 L249.17 227.50 L249.77 227.32 L250.38 227.14 L250.98 226.96 L251.59 226.78 L252.20 226.59 L252.80 226.41 L253.41 226.22 L254.01 226.04 L254.60 225.85 L255.20 225.67 L255.78 225.48 L256.36 225.29 L256.94 225.11 L257.51 224.92 L258.07 224.74 L258.61 224.55 L259.15 224.37 L259.68 224.18 L260.20 224.00 L260.85 223.77 L261.48 223.53 L262.10 223.29 L262.70 223.05 L263.29 222.81 L263.88 222.57 L264.45 222.33 L265.01 222.09 L265.57 221.86 L266.12 221.62 L266.66 221.38 L267.19 221.15 L267.72 220.92 L268.24 220.69 L268.76 220.46 L269.27 220.24 L269.79 220.02 L270.30 219.80 L270.91 219.54 L271.52 219.29 L272.11 219.03 L272.70 218.78 L273.29 218.53 L273.86 218.28 L274.43 218.03 L274.99 217.79 L275.54 217.56 L276.08 217.33 L276.61 217.11 L277.12 216.89 L277.63 216.69 L278.12 216.49 L278.60 216.30 L279.30 216.02 L279.98 215.75 L280.64 215.49 L281.28 215.23 L281.89 215.00 L282.48 214.79 L283.03 214.61 L283.56 214.46 L284.05 214.36 L284.50 214.30 L285.27 214.40 L285.87 214.73 L286.37 215.14 L286.83 215.49 L287.30 215.60 L287.85 215.35 L288.31 214.86 L288.82 214.28 L289.50 213.80 L289.99 213.61 L290.53 213.45 L291.12 213.31 L291.74 213.17 L292.38 213.02 L293.04 212.83 L293.70 212.60 L294.20 212.38 L294.69 212.12 L295.18 211.84 L295.68 211.55 L296.20 211.25 L296.75 210.94 L297.34 210.65 L297.99 210.36 L298.70 210.10 L299.20 209.94 L299.74 209.77 L300.31 209.61 L300.90 209.44 L301.52 209.28 L302.15 209.11 L302.79 208.96 L303.44 208.80 L304.09 208.66 L304.72 208.53 L305.35 208.40 L305.96 208.29 L306.54 208.19 L307.10 208.10 L307.77 208.01 L308.43 207.95 L309.06 207.91 L309.68 207.88 L310.29 207.87 L310.88 207.87 L311.47 207.87 L312.05 207.88 L312.64 207.89 L313.22 207.90 L313.80 207.90 L314.43 207.91 L315.04 207.94 L315.63 207.99 L316.21 208.05 L316.79 208.10 L317.39 208.14 L317.99 208.16 L318.63 208.15 L319.29 208.10 L320.00 208.00 L320.53 207.90 L321.07 207.77 L321.62 207.63 L322.19 207.46 L322.77 207.28 L323.36 207.09 L323.96 206.88 L324.57 206.67 L325.18 206.45 L325.81 206.24 L326.45 206.02 L327.09 205.81 L327.74 205.60 L328.40 205.40 L328.95 205.24 L329.51 205.07 L330.08 204.90 L330.66 204.73 L331.25 204.56 L331.84 204.38 L332.44 204.21 L333.05 204.03 L333.65 203.86 L334.26 203.68 L334.87 203.52 L335.48 203.35 L336.09 203.19 L336.70 203.03 L337.31 202.88 L337.91 202.74 L338.50 202.60 L339.13 202.46 L339.77 202.33 L340.40 202.19 L341.04 202.06 L341.69 201.94 L342.33 201.82 L342.97 201.70 L343.61 201.59 L344.24 201.49 L344.87 201.39 L345.50 201.29 L346.11 201.20 L346.73 201.12 L347.33 201.04 L347.92 200.97 L348.50 200.90 L349.15 200.83 L349.78 200.77 L350.41 200.72 L351.02 200.68 L351.62 200.64 L352.21 200.62 L352.80 200.59 L353.38 200.58 L353.97 200.57 L354.55 200.56 L355.13 200.57 L355.71 200.57 L356.30 200.58 L356.90 200.60 L357.50 200.62 L358.10 200.66 L358.70 200.70 L359.30 200.75 L359.90 200.81 L360.51 200.87 L361.11 200.94 L361.71 201.01 L362.31 201.08 L362.91 201.15 L363.51 201.22 L364.11 201.28 L364.70 201.34 L365.30 201.40 L365.95 201.45 L366.60 201.50 L367.25 201.55 L367.91 201.59 L368.57 201.64 L369.23 201.68 L369.88 201.72 L370.53 201.77 L371.17 201.82 L371.80 201.88 L372.41 201.94 L373.01 202.02 L373.60 202.10 L374.28 202.21 L374.94 202.32 L375.59 202.43 L376.22 202.55 L376.84 202.68 L377.45 202.82 L378.05 202.97 L378.63 203.13 L379.20 203.31 L379.76 203.49 L380.30 203.70 L380.95 203.96 L381.58 204.22 L382.19 204.49 L382.78 204.78 L383.34 205.09 L383.89 205.44 L384.42 205.84 L384.92 206.29 L385.40 206.80 L385.74 207.22 L386.05 207.65 L386.35 208.10 L386.63 208.58 L386.90 209.08 L387.16 209.61 L387.41 210.17 L387.66 210.76 L387.91 211.39 L388.17 212.05 L388.43 212.76 L388.70 213.50 L388.87 213.98 L389.04 214.48 L389.21 215.02 L389.38 215.57 L389.55 216.15 L389.72 216.75 L389.89 217.36 L390.06 217.98 L390.23 218.61 L390.40 219.24 L390.57 219.88 L390.74 220.52 L390.91 221.15 L391.08 221.78 L391.25 222.39 L391.42 222.99 L391.59 223.58 L391.76 224.14 L391.93 224.68 L392.10 225.20 L392.32 225.86 L392.55 226.51 L392.77 227.13 L393.00 227.74 L393.22 228.34 L393.45 228.92 L393.67 229.49 L393.89 230.04 L394.11 230.59 L394.33 231.11 L394.55 231.63 L394.77 232.14 L394.98 232.64 L395.19 233.12 L395.40 233.60 L395.71 234.32 L396.00 235.05 L396.30 235.77 L396.58 236.47 L396.87 237.13 L397.15 237.74 L397.44 238.29 L397.72 238.76 L398.01 239.14 L398.30 239.40 L398.90 239.62 L399.52 239.50 L400.13 239.10 L400.73 238.48 L401.30 237.70 L401.55 237.27 L401.79 236.74 L402.03 236.14 L402.27 235.49 L402.50 234.80 L402.73 234.10 L402.95 233.40 L403.17 232.72 L403.38 232.08 L403.59 231.50 L403.80 231.00 L404.16 230.15 L404.49 229.33 L404.81 228.60 L405.12 228.04 L405.45 227.71 L405.80 227.70 L406.04 227.92 L406.29 228.32 L406.53 228.87 L406.78 229.53 L407.04 230.25 L407.30 231.00 L407.59 231.73 L407.88 232.41 L408.20 233.00 L408.54 233.56 L408.91 234.16 L409.29 234.79 L409.69 235.39 L410.10 235.96 L410.51 236.45 L410.91 236.84 L411.31 237.10 L411.70 237.20 L412.12 237.09 L412.54 236.76 L412.95 236.28 L413.36 235.68 L413.76 235.02 L414.17 234.36 L414.58 233.73 L415.00 233.20 L415.42 232.72 L415.84 232.23 L416.27 231.73 L416.69 231.25 L417.12 230.79 L417.55 230.37 L417.97 230.00 L418.40 229.70 L419.10 229.31 L419.83 229.00 L420.54 228.82 L421.21 228.77 L421.80 228.90 L422.22 229.26 L422.60 229.89 L422.93 230.61 L423.24 231.29 L423.52 231.77 L423.80 231.90 L424.02 231.57 L424.20 230.86 L424.37 229.94 L424.53 229.00 L424.70 228.19 L424.88 227.70 L425.10 227.70 L425.22 227.96 L425.35 228.42 L425.48 229.05 L425.61 229.79 L425.75 230.63 L425.90 231.52 L426.04 232.42 L426.19 233.31 L426.34 234.13 L426.49 234.86 L426.65 235.46 L426.80 235.89 L426.95 236.12 L427.10 236.10 L427.20 235.95 L427.30 235.70 L427.40 235.36 L427.50 234.94 L427.60 234.44 L427.71 233.88 L427.81 233.27 L427.91 232.60 L428.01 231.90 L428.12 231.17 L428.22 230.41 L428.33 229.65 L428.43 228.87 L428.54 228.10 L428.64 227.34 L428.75 226.60 L428.86 225.89 L428.97 225.22 L429.08 224.59 L429.19 224.01 L429.30 223.50 L429.48 222.75 L429.67 222.03 L429.87 221.35 L430.06 220.71 L430.26 220.09 L430.46 219.51 L430.66 218.95 L430.86 218.41 L431.06 217.90 L431.25 217.40 L431.44 216.92 L431.62 216.45 L431.80 216.00 L432.11 215.24 L432.41 214.61 L432.70 214.06 L432.98 213.55 L433.25 213.03 L433.52 212.46 L433.80 211.80 L433.99 211.23 L434.18 210.57 L434.37 209.84 L434.56 209.08 L434.75 208.33 L434.94 207.61 L435.13 206.98 L435.32 206.46 L435.51 206.09 L435.70 205.90 L435.98 205.97 L436.26 206.35 L436.54 206.97 L436.83 207.73 L437.12 208.57 L437.41 209.39 L437.70 210.10 L437.96 210.73 L438.22 211.48 L438.48 212.27 L438.74 213.06 L439.01 213.76 L439.27 214.33 L439.54 214.70 L439.80 214.80 L440.03 214.62 L440.27 214.19 L440.50 213.58 L440.74 212.85 L440.97 212.04 L441.21 211.23 L441.44 210.46 L441.67 209.80 L441.90 209.30 L442.40 208.43 L442.90 207.74 L443.40 207.40 L443.90 207.60 L444.10 207.90 L444.31 208.36 L444.51 208.93 L444.71 209.60 L444.91 210.32 L445.12 211.06 L445.33 211.78 L445.55 212.45 L445.77 213.03 L446.00 213.50 L446.49 214.12 L447.01 214.49 L447.54 214.76 L448.08 215.05 L448.60 215.50 L448.96 215.97 L449.30 216.54 L449.64 217.15 L449.98 217.78 L450.33 218.37 L450.70 218.89 L451.10 219.30 L451.72 219.61 L452.40 219.72 L453.10 219.75 L453.78 219.86 L454.40 220.20 L454.75 220.51 L455.08 220.84 L455.40 221.20 L455.70 221.62 L456.00 222.12 L456.29 222.72 L456.59 223.44 L456.90 224.30 L457.04 224.73 L457.17 225.19 L457.31 225.67 L457.44 226.17 L457.57 226.70 L457.70 227.24 L457.83 227.81 L457.96 228.40 L458.09 229.01 L458.23 229.64 L458.36 230.28 L458.50 230.94 L458.64 231.62 L458.78 232.31 L458.93 233.02 L459.08 233.73 L459.24 234.46 L459.40 235.20 L459.51 235.72 L459.63 236.27 L459.74 236.85 L459.86 237.47 L459.99 238.11 L460.11 238.77 L460.24 239.44 L460.37 240.14 L460.50 240.84 L460.63 241.55 L460.77 242.26 L460.90 242.98 L461.03 243.69 L461.17 244.39 L461.30 245.08 L461.43 245.75 L461.57 246.40 L461.70 247.04 L461.83 247.64 L461.96 248.22 L462.09 248.76 L462.21 249.27 L462.34 249.73 L462.46 250.15 L462.57 250.52 L462.69 250.84 L462.80 251.10 L463.26 251.70 L463.67 251.55 L464.05 250.86 L464.43 249.86 L464.84 248.77 L465.30 247.80 L465.55 247.34 L465.82 246.79 L466.09 246.19 L466.37 245.54 L466.66 244.87 L466.95 244.19 L467.24 243.53 L467.54 242.90 L467.84 242.33 L468.13 241.82 L468.42 241.41 L468.70 241.10 L469.35 240.76 L469.98 240.82 L470.62 241.13 L471.28 241.54 L472.00 241.90 L472.56 242.12 L473.16 242.38 L473.78 242.66 L474.42 242.97 L475.04 243.28 L475.64 243.59 L476.20 243.90 L476.80 244.19 L477.36 244.42 L477.90 244.65 L478.43 244.96 L478.95 245.42 L479.50 246.10 L479.76 246.51 L480.02 246.96 L480.28 247.47 L480.54 248.02 L480.80 248.60 L481.07 249.21 L481.33 249.84 L481.60 250.48 L481.86 251.13 L482.12 251.79 L482.38 252.44 L482.64 253.08 L482.90 253.70 L483.14 254.28 L483.38 254.89 L483.61 255.51 L483.85 256.15 L484.08 256.79 L484.32 257.44 L484.55 258.08 L484.78 258.71 L485.02 259.33 L485.25 259.93 L485.49 260.50 L485.72 261.04 L485.96 261.54 L486.20 262.00 L486.62 262.74 L487.05 263.43 L487.47 264.05 L487.90 264.61 L488.33 265.08 L488.75 265.46 L489.18 265.73 L489.60 265.90 L490.17 265.92 L490.75 265.73 L491.33 265.36 L491.89 264.87 L492.42 264.31 L492.90 263.70 L493.18 263.31 L493.44 262.92 L493.67 262.52 L493.89 262.09 L494.11 261.60 L494.31 261.02 L494.53 260.35 L494.76 259.55 L495.00 258.60 L495.11 258.16 L495.21 257.69 L495.32 257.18 L495.43 256.65 L495.54 256.08 L495.65 255.50 L495.77 254.89 L495.88 254.27 L495.99 253.63 L496.11 252.97 L496.23 252.31 L496.34 251.64 L496.46 250.97 L496.57 250.30 L496.69 249.62 L496.81 248.96 L496.92 248.30 L497.04 247.65 L497.16 247.01 L497.27 246.39 L497.39 245.78 L497.50 245.20 L497.63 244.54 L497.77 243.87 L497.90 243.20 L498.04 242.54 L498.18 241.87 L498.32 241.21 L498.46 240.55 L498.59 239.90 L498.73 239.25 L498.87 238.61 L499.00 237.99 L499.14 237.37 L499.27 236.77 L499.40 236.18 L499.53 235.61 L499.65 235.05 L499.77 234.51 L499.89 234.00 L500.00 233.50 L500.18 232.69 L500.36 231.94 L500.52 231.24 L500.68 230.59 L500.83 229.98 L500.97 229.39 L501.12 228.84 L501.26 228.31 L501.40 227.80 L501.55 227.30 L501.70 226.80 L501.94 226.07 L502.16 225.42 L502.39 224.83 L502.62 224.27 L502.86 223.73 L503.12 223.18 L503.40 222.60 L503.67 222.09 L503.97 221.59 L504.28 221.10 L504.60 220.60 L504.93 220.09 L505.26 219.56 L505.58 219.00 L505.90 218.40 L506.15 217.89 L506.40 217.37 L506.65 216.83 L506.90 216.28 L507.15 215.71 L507.40 215.13 L507.65 214.52 L507.90 213.90 L508.15 213.26 L508.40 212.60 L508.59 212.07 L508.79 211.50 L508.99 210.92 L509.20 210.31 L509.40 209.69 L509.60 209.06 L509.80 208.44 L510.00 207.82 L510.19 207.21 L510.38 206.61 L510.56 206.04 L510.73 205.50 L510.90 205.00 L511.14 204.30 L511.35 203.74 L511.53 203.26 L511.71 202.79 L511.89 202.30 L512.09 201.70 L512.32 200.96 L512.60 200.00 L512.72 199.57 L512.84 199.12 L512.97 198.63 L513.11 198.13 L513.25 197.60 L513.39 197.04 L513.53 196.47 L513.68 195.89 L513.83 195.29 L513.99 194.67 L514.15 194.05 L514.31 193.42 L514.47 192.78 L514.63 192.14 L514.80 191.49 L514.96 190.85 L515.13 190.21 L515.30 189.57 L515.47 188.94 L515.63 188.31 L515.80 187.70 L515.96 187.11 L516.13 186.52 L516.30 185.91 L516.47 185.29 L516.64 184.67 L516.82 184.04 L517.00 183.40 L517.18 182.77 L517.36 182.13 L517.54 181.50 L517.73 180.86 L517.91 180.23 L518.09 179.61 L518.27 178.99 L518.44 178.38 L518.62 177.79 L518.79 177.20 L518.96 176.63 L519.13 176.07 L519.29 175.53 L519.45 175.00 L519.60 174.50 L519.83 173.73 L520.06 172.99 L520.27 172.26 L520.48 171.55 L520.69 170.87 L520.89 170.21 L521.08 169.57 L521.27 168.97 L521.46 168.39 L521.65 167.85 L521.84 167.33 L522.02 166.85 L522.21 166.41 L522.40 166.00 L522.92 164.98 L523.44 164.14 L523.94 163.58 L524.42 163.37 L524.90 163.60 L525.09 163.84 L525.28 164.17 L525.47 164.59 L525.65 165.07 L525.83 165.62 L526.01 166.23 L526.19 166.89 L526.37 167.60 L526.55 168.34 L526.73 169.11 L526.91 169.90 L527.10 170.70 L527.21 171.21 L527.32 171.76 L527.43 172.35 L527.54 172.98 L527.65 173.63 L527.76 174.31 L527.87 175.00 L527.98 175.70 L528.09 176.41 L528.20 177.12 L528.31 177.82 L528.42 178.51 L528.54 179.19 L528.66 179.84 L528.77 180.47 L528.89 181.06 L529.02 181.62 L529.14 182.13 L529.27 182.59 L529.40 183.00 L529.87 184.09 L530.37 184.88 L530.90 185.41 L531.43 185.71 L531.93 185.83 L532.40 185.80 L532.76 185.70 L533.09 185.52 L533.41 185.23 L533.72 184.77 L534.03 184.10 L534.35 183.19 L534.70 182.00 L534.80 181.60 L534.91 181.14 L535.02 180.64 L535.12 180.09 L535.23 179.51 L535.35 178.90 L535.46 178.26 L535.57 177.59 L535.69 176.91 L535.80 176.21 L535.92 175.50 L536.04 174.78 L536.15 174.06 L536.27 173.34 L536.38 172.63 L536.50 171.93 L536.62 171.25 L536.73 170.59 L536.84 169.95 L536.96 169.35 L537.07 168.77 L537.18 168.24 L537.29 167.74 L537.39 167.30 L537.50 166.90 L537.92 165.59 L538.33 164.68 L538.73 164.09 L539.12 163.77 L539.51 163.63 L539.90 163.60 L540.29 163.68 L540.69 163.91 L541.08 164.33 L541.47 164.97 L541.84 165.85 L542.20 167.00 L542.30 167.44 L542.41 167.98 L542.51 168.60 L542.61 169.30 L542.71 170.05 L542.81 170.84 L542.91 171.67 L543.01 172.51 L543.10 173.36 L543.20 174.19 L543.29 175.01 L543.39 175.79 L543.48 176.52 L543.57 177.20 L543.66 177.79 L543.75 178.30 L543.84 178.71 L543.93 179.01 L544.01 179.17 L544.10 179.20 L544.17 179.10 L544.24 178.89 L544.31 178.58 L544.37 178.18 L544.43 177.70 L544.49 177.14 L544.55 176.51 L544.61 175.83 L544.66 175.11 L544.72 174.35 L544.78 173.55 L544.83 172.74 L544.89 171.92 L544.95 171.10 L545.01 170.28 L545.08 169.48 L545.14 168.71 L545.21 167.97 L545.28 167.27 L545.35 166.63 L545.43 166.04 L545.51 165.53 L545.60 165.10 L545.89 164.02 L546.18 163.29 L546.50 162.80 L546.84 162.45 L547.23 162.15 L547.68 161.80 L548.20 161.30 L548.59 160.90 L549.03 160.46 L549.50 160.01 L550.01 159.54 L550.53 159.07 L551.07 158.60 L551.60 158.14 L552.12 157.70 L552.62 157.30 L553.08 156.93 L553.50 156.60 L554.18 156.06 L554.78 155.55 L555.33 155.12 L555.85 154.81 L556.37 154.65 L556.90 154.70 L557.30 154.91 L557.69 155.26 L558.08 155.73 L558.46 156.28 L558.84 156.86 L559.24 157.45 L559.66 158.01 L560.10 158.50 L560.57 158.94 L561.06 159.36 L561.57 159.77 L562.09 160.17 L562.62 160.58 L563.15 160.98 L563.68 161.39 L564.20 161.80 L564.72 162.26 L565.25 162.78 L565.78 163.33 L566.31 163.87 L566.83 164.36 L567.34 164.77 L567.83 165.06 L568.30 165.20 L568.89 165.12 L569.45 164.80 L569.99 164.31 L570.50 163.73 L571.01 163.14 L571.50 162.60 L571.98 162.02 L572.44 161.30 L572.89 160.58 L573.33 159.94 L573.77 159.51 L574.20 159.40 L574.52 159.48 L574.85 159.61 L575.17 159.84 L575.49 160.19 L575.80 160.70 L576.11 161.42 L576.41 162.37 L576.70 163.60 L576.78 163.99 L576.86 164.41 L576.93 164.86 L577.01 165.33 L577.09 165.83 L577.16 166.35 L577.23 166.88 L577.31 167.44 L577.38 168.02 L577.45 168.61 L577.53 169.22 L577.60 169.84 L577.67 170.48 L577.74 171.13 L577.81 171.79 L577.88 172.46 L577.95 173.13 L578.02 173.81 L578.09 174.50 L578.16 175.20 L578.23 175.89 L578.30 176.59 L578.37 177.28 L578.44 177.98 L578.51 178.67 L578.58 179.36 L578.66 180.05 L578.73 180.73 L578.80 181.40 L578.86 181.96 L578.92 182.52 L578.98 183.09 L579.04 183.67 L579.10 184.26 L579.16 184.85 L579.22 185.45 L579.28 186.05 L579.34 186.66 L579.40 187.27 L579.46 187.88 L579.52 188.50 L579.58 189.12 L579.64 189.74 L579.70 190.36 L579.76 190.98 L579.82 191.61 L579.88 192.23 L579.94 192.85 L580.00 193.47 L580.06 194.09 L580.12 194.71 L580.18 195.33 L580.24 195.94 L580.30 196.54 L580.36 197.15 L580.42 197.75 L580.48 198.34 L580.54 198.93 L580.60 199.51 L580.66 200.08 L580.72 200.65 L580.78 201.21 L580.84 201.76 L580.90 202.30 L580.98 202.97 L581.05 203.63 L581.12 204.28 L581.20 204.93 L581.27 205.58 L581.35 206.21 L581.42 206.84 L581.50 207.47 L581.58 208.09 L581.65 208.70 L581.73 209.31 L581.80 209.91 L581.88 210.51 L581.95 211.11 L582.02 211.70 L582.10 212.28 L582.17 212.86 L582.25 213.44 L582.33 214.01 L582.40 214.58 L582.47 215.14 L582.55 215.70 L582.62 216.26 L582.70 216.81 L582.77 217.36 L582.85 217.91 L582.92 218.46 L583.00 219.00 L583.10 219.70 L583.19 220.41 L583.29 221.14 L583.39 221.87 L583.49 222.61 L583.58 223.36 L583.68 224.10 L583.78 224.83 L583.88 225.56 L583.98 226.28 L584.08 226.97 L584.17 227.65 L584.27 228.31 L584.37 228.94 L584.46 229.54 L584.56 230.11 L584.65 230.64 L584.74 231.12 L584.83 231.57 L584.92 231.97 L585.01 232.31 L585.10 232.60 L585.53 233.45 L585.93 233.25 L586.33 232.20 L586.80 230.50 L586.89 230.14 L586.99 229.74 L587.08 229.32 L587.18 228.86 L587.28 228.37 L587.38 227.85 L587.48 227.31 L587.59 226.74 L587.69 226.16 L587.80 225.55 L587.91 224.93 L588.02 224.29 L588.13 223.64 L588.24 222.98 L588.35 222.31 L588.47 221.64 L588.58 220.96 L588.70 220.28 L588.82 219.59 L588.94 218.91 L589.06 218.23 L589.18 217.56 L589.30 216.90 L589.40 216.35 L589.51 215.79 L589.61 215.22 L589.72 214.63 L589.83 214.04 L589.94 213.43 L590.06 212.82 L590.17 212.20 L590.29 211.58 L590.40 210.95 L590.52 210.32 L590.64 209.69 L590.76 209.05 L590.88 208.42 L590.99 207.79 L591.11 207.16 L591.23 206.53 L591.34 205.91 L591.46 205.29 L591.57 204.68 L591.68 204.08 L591.79 203.49 L591.90 202.91 L592.00 202.34 L592.11 201.78 L592.21 201.24 L592.31 200.71 L592.40 200.20 L592.54 199.46 L592.67 198.71 L592.81 197.97 L592.94 197.24 L593.08 196.51 L593.21 195.79 L593.34 195.09 L593.46 194.40 L593.58 193.73 L593.70 193.09 L593.82 192.46 L593.92 191.87 L594.03 191.30 L594.12 190.77 L594.21 190.28 L594.30 189.82 L594.37 189.40 L594.44 189.03 L594.50 188.70" fill="none" stroke="#ea1c1f" stroke-width="1.5" stroke-linejoin="round"/>
<path d="M31.70 297.60 L32.04 297.59 L32.44 297.57 L32.89 297.55 L33.40 297.52 L33.94 297.50 L34.53 297.47 L35.15 297.44 L35.80 297.41 L36.47 297.19 L37.17 296.97 L37.87 297.49 L38.59 296.82 L39.31 297.30 L40.02 297.08 L40.73 296.71 L41.43 297.18 L42.11 296.64 L42.77 297.05 L43.40 296.63 L44.02 296.63 L44.64 296.98 L45.26 297.40 L45.89 296.60 L46.52 296.69 L47.15 297.12 L47.78 297.45 L48.41 297.03 L49.04 296.81 L49.66 297.43 L50.29 296.40 L50.91 297.27 L51.52 296.63 L52.14 296.46 L52.74 296.42 L53.34 296.62 L53.94 297.17 L54.52 296.46 L55.10 296.89 L55.78 296.94 L56.45 296.64 L57.12 296.82 L57.78 296.27 L58.43 296.26 L59.08 296.41 L59.72 296.92 L60.36 296.64 L60.99 296.51 L61.61 296.81 L62.22 296.66 L62.83 296.50 L63.43 297.06 L64.03 296.97 L64.62 296.49 L65.20 296.88 L65.87 296.87 L66.54 297.30 L67.21 297.20 L67.88 296.79 L68.55 297.62 L69.21 296.75 L69.85 297.16 L70.47 297.62 L71.08 297.03 L71.65 297.49 L72.19 297.07 L72.70 297.84 L73.17 298.02 L73.60 297.88 L74.54 298.37 L75.18 297.87 L75.65 298.42 L76.05 298.47 L76.50 298.69 L77.00 298.86 L77.46 299.64 L77.90 300.16 L78.34 300.09 L78.80 300.78 L79.19 300.56 L79.58 301.76 L79.97 302.22 L80.37 303.13 L80.78 303.47 L81.20 303.36 L81.64 303.95 L82.08 304.74 L82.53 304.50 L83.00 305.42 L83.49 305.50 L84.00 305.78 L84.51 305.97 L85.01 306.95 L85.54 306.39 L86.11 306.65 L86.75 306.93 L87.50 307.61 L88.01 306.84 L88.56 307.34 L89.15 307.54 L89.76 308.00 L90.40 308.02 L91.05 308.16 L91.72 307.62 L92.38 307.87 L93.05 307.92 L93.70 308.62 L94.29 308.82 L94.89 308.05 L95.49 308.56 L96.10 308.70 L96.71 308.83 L97.33 308.97 L97.94 309.11 L98.56 309.26 L99.18 309.40 L99.79 309.55 L100.40 309.70 L101.01 309.86 L101.62 310.02 L102.23 310.19 L102.84 310.37 L103.45 310.55 L104.05 310.73 L104.66 310.90 L105.27 311.07 L105.88 311.22 L106.49 311.37 L107.10 311.50 L107.71 311.62 L108.32 311.74 L108.93 311.85 L109.54 311.95 L110.15 312.05 L110.75 312.14 L111.36 312.21 L111.97 312.28 L112.58 312.33 L113.19 312.37 L113.80 312.40 L114.42 312.41 L115.05 312.40 L115.69 312.38 L116.33 312.35 L116.97 312.30 L117.60 312.25 L118.23 312.18 L118.83 312.12 L119.42 312.05 L119.97 311.97 L120.50 311.90 L121.21 311.79 L121.79 311.70 L122.29 311.59 L122.80 311.46 L123.38 311.30 L124.09 311.08 L125.00 310.80 L125.44 310.66 L125.92 310.51 L126.43 310.34 L126.97 310.16 L127.54 309.97 L128.12 309.77 L128.72 309.57 L129.34 309.36 L129.97 309.14 L130.60 308.92 L131.24 308.70 L131.88 308.48 L132.52 308.26 L133.16 308.04 L133.79 307.82 L134.40 307.61 L135.00 307.40 L135.59 307.20 L136.18 307.00 L136.78 306.80 L137.37 306.60 L137.96 306.41 L138.56 306.21 L139.15 306.02 L139.75 305.82 L140.34 305.62 L140.94 305.42 L141.53 305.21 L142.13 305.01 L142.72 304.79 L143.32 304.58 L143.91 304.36 L144.51 304.13 L145.10 303.90 L145.66 303.68 L146.22 303.44 L146.78 303.21 L147.35 302.97 L147.91 302.73 L148.47 302.48 L149.03 302.23 L149.59 301.98 L150.16 301.72 L150.72 301.47 L151.28 301.21 L151.84 300.95 L152.40 300.69 L152.96 300.43 L153.52 300.17 L154.08 299.91 L154.64 299.66 L155.20 299.40 L155.76 299.14 L156.31 298.88 L156.87 298.62 L157.43 298.36 L157.98 298.10 L158.54 297.83 L159.09 297.56 L159.65 297.30 L160.20 297.03 L160.75 296.77 L161.31 296.50 L161.86 296.24 L162.42 295.97 L162.97 295.71 L163.53 295.46 L164.09 295.20 L164.64 294.95 L165.20 294.70 L165.76 294.45 L166.32 294.21 L166.88 293.97 L167.44 293.73 L168.00 293.49 L168.56 293.26 L169.13 293.02 L169.69 292.79 L170.25 292.56 L170.81 292.33 L171.37 292.10 L171.94 291.87 L172.50 291.64 L173.06 291.41 L173.62 291.18 L174.18 290.96 L174.74 290.73 L175.30 290.50 L175.90 290.26 L176.51 290.01 L177.13 289.76 L177.76 289.50 L178.40 289.24 L179.03 288.99 L179.66 288.73 L180.29 288.48 L180.92 288.23 L181.53 287.99 L182.13 287.75 L182.71 287.52 L183.28 287.29 L183.82 287.08 L184.34 286.87 L184.84 286.68 L185.30 286.50 L186.09 286.19 L186.78 285.92 L187.39 285.69 L187.94 285.47 L188.45 285.28 L188.94 285.10 L189.44 284.93 L189.95 284.77 L190.50 284.60 L191.16 284.40 L191.85 284.21 L192.54 284.02 L193.23 283.85 L193.90 283.69 L194.55 283.56 L195.15 283.46 L195.70 283.40 L196.47 283.42 L197.14 283.57 L197.73 283.76 L198.28 283.90 L198.80 283.90 L199.35 283.68 L199.78 283.30 L200.25 282.85 L200.90 282.40 L201.39 282.14 L201.95 281.86 L202.55 281.57 L203.19 281.28 L203.84 281.00 L204.48 280.73 L205.10 280.50 L205.72 280.29 L206.38 280.09 L207.04 279.91 L207.68 279.75 L208.29 279.60 L208.84 279.49 L209.30 279.40 L210.27 279.44 L210.90 279.50 L211.27 279.27 L211.62 278.93 L212.40 278.50 L212.81 278.34 L213.28 278.17 L213.81 277.98 L214.39 277.79 L215.00 277.59 L215.64 277.39 L216.31 277.18 L217.00 276.99 L217.70 276.80 L218.22 276.66 L218.75 276.53 L219.28 276.40 L219.82 276.26 L220.37 276.13 L220.94 276.00 L221.54 275.87 L222.16 275.74 L222.81 275.60 L223.50 275.47 L224.23 275.34 L225.00 275.20 L225.51 275.11 L226.03 275.03 L226.56 274.94 L227.10 274.86 L227.66 274.77 L228.23 274.68 L228.81 274.60 L229.40 274.51 L230.00 274.42 L230.62 274.34 L231.25 274.25 L231.90 274.16 L232.56 274.07 L233.23 273.98 L233.92 273.89 L234.62 273.79 L235.33 273.70 L236.06 273.60 L236.80 273.50 L237.32 273.43 L237.84 273.36 L238.38 273.29 L238.93 273.21 L239.49 273.13 L240.05 273.06 L240.63 272.98 L241.21 272.90 L241.80 272.82 L242.40 272.73 L243.00 272.65 L243.61 272.57 L244.22 272.49 L244.84 272.41 L245.46 272.32 L246.08 272.24 L246.70 272.16 L247.33 272.09 L247.95 272.01 L248.58 271.93 L249.20 271.86 L249.83 271.78 L250.45 271.71 L251.07 271.65 L251.68 271.58 L252.29 271.52 L252.90 271.46 L253.50 271.40 L254.10 271.35 L254.70 271.29 L255.31 271.24 L255.92 271.20 L256.54 271.15 L257.15 271.11 L257.77 271.06 L258.39 271.02 L259.01 270.98 L259.63 270.95 L260.25 270.91 L260.87 270.87 L261.49 270.84 L262.11 270.81 L262.72 270.77 L263.33 270.74 L263.94 270.71 L264.55 270.68 L265.15 270.65 L265.74 270.62 L266.34 270.60 L266.92 270.57 L267.50 270.54 L268.08 270.51 L268.64 270.48 L269.20 270.46 L269.76 270.43 L270.30 270.40 L270.99 270.36 L271.68 270.33 L272.38 270.29 L273.08 270.25 L273.78 270.21 L274.47 270.17 L275.16 270.13 L275.85 270.09 L276.52 270.06 L277.19 270.02 L277.84 269.99 L278.48 269.96 L279.11 269.93 L279.71 269.90 L280.30 269.87 L280.87 269.85 L281.41 269.83 L281.92 269.82 L282.41 269.81 L282.87 269.80 L283.30 269.80 L283.70 269.80 L285.00 269.90 L285.74 270.10 L286.16 270.33 L286.50 270.52 L287.00 270.60 L287.51 270.55 L287.87 270.42 L288.32 270.24 L289.08 270.02 L290.40 269.80 L290.80 269.75 L291.25 269.69 L291.74 269.63 L292.26 269.57 L292.81 269.51 L293.39 269.45 L294.00 269.38 L294.63 269.31 L295.28 269.24 L295.94 269.17 L296.61 269.10 L297.29 269.03 L297.98 268.96 L298.67 268.89 L299.35 268.82 L300.03 268.75 L300.70 268.69 L301.36 268.63 L302.00 268.57 L302.63 268.51 L303.23 268.45 L303.80 268.40 L304.47 268.34 L305.11 268.28 L305.73 268.23 L306.33 268.18 L306.91 268.13 L307.49 268.09 L308.06 268.05 L308.62 268.00 L309.19 267.96 L309.76 267.92 L310.34 267.88 L310.93 267.84 L311.54 267.81 L312.18 267.77 L312.83 267.73 L313.52 267.69 L314.24 267.64 L315.00 267.60 L315.51 267.57 L316.03 267.54 L316.56 267.51 L317.11 267.48 L317.66 267.44 L318.23 267.41 L318.81 267.37 L319.39 267.34 L319.99 267.30 L320.59 267.27 L321.20 267.23 L321.81 267.20 L322.43 267.17 L323.06 267.13 L323.68 267.10 L324.31 267.07 L324.94 267.03 L325.58 267.00 L326.21 266.98 L326.84 266.95 L327.48 266.92 L328.11 266.90 L328.73 266.88 L329.36 266.86 L329.98 266.84 L330.59 266.82 L331.20 266.81 L331.80 266.80 L332.42 266.79 L333.04 266.79 L333.67 266.78 L334.29 266.78 L334.92 266.79 L335.55 266.79 L336.18 266.79 L336.80 266.80 L337.43 266.81 L338.06 266.82 L338.69 266.83 L339.32 266.85 L339.94 266.86 L340.57 266.65 L341.19 266.70 L341.82 266.72 L342.44 266.92 L343.06 267.01 L343.67 266.80 L344.29 266.63 L344.90 266.94 L345.51 266.93 L346.11 267.08 L346.72 267.37 L347.31 267.20 L347.91 267.10 L348.50 267.18 L349.14 267.24 L349.79 266.83 L350.44 267.44 L351.10 267.39 L351.76 267.48 L352.42 267.46 L353.08 267.20 L353.74 267.24 L354.40 267.07 L355.06 267.47 L355.71 267.10 L356.36 267.14 L356.99 267.27 L357.62 267.26 L358.24 267.42 L358.85 267.24 L359.45 267.22 L360.03 267.35 L360.59 267.33 L361.14 267.52 L361.68 267.29 L362.19 267.89 L362.68 267.70 L363.15 267.37 L363.60 267.43 L364.52 267.43 L365.33 267.35 L366.03 267.06 L366.65 267.43 L367.21 267.38 L367.73 266.85 L368.22 266.70 L368.70 266.26 L369.20 266.13 L369.72 266.18 L370.30 266.04 L370.91 266.35 L371.52 265.81 L372.13 265.65 L372.74 266.24 L373.35 265.90 L373.95 265.59 L374.56 265.85 L375.17 265.48 L375.78 265.84 L376.39 266.18 L377.00 266.15 L377.61 266.11 L378.22 265.91 L378.83 266.11 L379.44 266.12 L380.05 266.70 L380.65 266.70 L381.26 267.06 L381.87 266.93 L382.48 267.04 L383.09 267.64 L383.70 267.94 L384.32 268.03 L384.94 268.18 L385.57 268.37 L386.21 268.51 L386.84 268.34 L387.47 268.74 L388.09 268.83 L388.70 268.81 L389.29 269.03 L389.85 269.42 L390.40 269.63 L391.04 270.22 L391.66 270.69 L392.25 270.63 L392.83 271.28 L393.38 271.62 L393.91 271.92 L394.43 271.83 L394.92 272.06 L395.40 272.41 L395.91 272.80 L396.39 273.25 L396.85 274.02 L397.28 274.69 L397.69 275.11 L398.08 275.28 L398.45 275.79 L398.80 276.21 L399.57 276.42 L400.19 277.28 L400.90 277.39 L401.27 277.03 L401.66 276.59 L402.07 275.88 L402.49 275.07 L402.92 274.88 L403.36 273.94 L403.80 273.71 L404.19 273.35 L404.60 272.43 L405.01 271.90 L405.43 271.76 L405.84 271.10 L406.27 270.26 L406.68 269.84 L407.10 269.56 L407.70 269.79 L408.25 269.60 L408.83 269.13 L409.52 269.66 L410.40 269.84 L410.88 269.63 L411.40 269.45 L411.96 269.62 L412.56 269.37 L413.18 269.34 L413.82 270.08 L414.48 269.93 L415.15 269.93 L415.83 270.33 L416.52 270.11 L417.20 270.56 L417.75 270.66 L418.31 270.37 L418.89 270.54 L419.48 270.73 L420.08 270.86 L420.69 271.28 L421.30 271.24 L421.91 271.55 L422.52 271.55 L423.12 272.31 L423.71 272.15 L424.29 272.46 L424.85 272.80 L425.40 273.00 L425.97 273.29 L426.52 273.60 L427.06 273.92 L427.60 274.25 L428.12 274.59 L428.63 274.95 L429.14 275.32 L429.65 275.69 L430.15 276.08 L430.66 276.47 L431.17 276.87 L431.68 277.28 L432.20 277.70 L432.65 278.06 L433.10 278.42 L433.54 278.78 L433.98 279.15 L434.43 279.52 L434.87 279.89 L435.31 280.28 L435.75 280.67 L436.20 281.08 L436.65 281.50 L437.11 281.94 L437.57 282.40 L438.04 282.88 L438.51 283.38 L439.00 283.90 L439.35 284.29 L439.72 284.69 L440.09 285.10 L440.47 285.52 L440.85 285.94 L441.24 286.38 L441.63 286.83 L442.03 287.28 L442.42 287.74 L442.82 288.21 L443.22 288.69 L443.61 289.17 L444.00 289.67 L444.39 290.16 L444.77 290.67 L445.15 291.18 L445.52 291.69 L445.88 292.21 L446.23 292.74 L446.57 293.27 L446.90 293.80 L447.19 294.29 L447.48 294.79 L447.76 295.28 L448.04 295.79 L448.31 296.29 L448.57 296.81 L448.83 297.32 L449.09 297.84 L449.34 298.37 L449.59 298.90 L449.83 299.44 L450.08 299.98 L450.32 300.53 L450.55 301.09 L450.79 301.65 L451.02 302.22 L451.25 302.80 L451.47 303.38 L451.70 303.97 L451.93 304.56 L452.15 305.17 L452.38 305.78 L452.60 306.40 L452.79 306.94 L452.98 307.48 L453.17 308.03 L453.36 308.59 L453.54 309.15 L453.73 309.72 L453.91 310.30 L454.09 310.88 L454.27 311.46 L454.45 312.05 L454.63 312.65 L454.81 313.25 L454.98 313.85 L455.15 314.46 L455.33 315.07 L455.49 315.68 L455.66 316.30 L455.83 316.91 L455.99 317.53 L456.15 318.15 L456.31 318.77 L456.46 319.40 L456.61 320.02 L456.77 320.64 L456.91 321.26 L457.06 321.88 L457.20 322.50 L457.33 323.08 L457.46 323.66 L457.58 324.25 L457.70 324.84 L457.81 325.44 L457.93 326.04 L458.04 326.65 L458.15 327.25 L458.26 327.86 L458.36 328.47 L458.46 329.08 L458.57 329.69 L458.67 330.31 L458.76 330.92 L458.86 331.53 L458.96 332.14 L459.05 332.75 L459.15 333.36 L459.24 333.97 L459.34 334.57 L459.43 335.17 L459.53 335.76 L459.62 336.36 L459.71 336.94 L459.81 337.53 L459.91 338.10 L460.00 338.68 L460.10 339.24 L460.20 339.80 L460.32 340.45 L460.43 341.11 L460.54 341.77 L460.65 342.44 L460.76 343.12 L460.87 343.79 L460.98 344.47 L461.09 345.14 L461.20 345.81 L461.31 346.48 L461.41 347.14 L461.52 347.79 L461.63 348.43 L461.74 349.06 L461.85 349.68 L461.96 350.28 L462.07 350.86 L462.18 351.42 L462.29 351.97 L462.40 352.49 L462.52 352.99 L462.64 353.46 L462.76 353.90 L462.88 354.32 L463.00 354.70 L463.38 355.68 L463.75 356.38 L464.13 356.85 L464.51 357.17 L464.92 357.40 L465.37 357.60 L465.86 357.85 L466.40 358.20 L466.84 358.51 L467.32 358.81 L467.84 359.10 L468.38 359.39 L468.94 359.68 L469.51 359.98 L470.08 360.28 L470.64 360.59 L471.19 360.91 L471.71 361.25 L472.20 361.60 L472.71 362.00 L473.20 362.39 L473.67 362.78 L474.13 363.19 L474.58 363.61 L475.02 364.05 L475.46 364.52 L475.90 365.04 L476.35 365.59 L476.80 366.20 L477.11 366.64 L477.42 367.12 L477.74 367.63 L478.06 368.17 L478.38 368.73 L478.70 369.30 L479.02 369.89 L479.33 370.48 L479.65 371.06 L479.96 371.65 L480.26 372.22 L480.56 372.78 L480.85 373.31 L481.13 373.82 L481.40 374.30 L481.75 374.93 L482.09 375.55 L482.41 376.16 L482.72 376.76 L483.02 377.33 L483.32 377.88 L483.61 378.40 L483.90 378.87 L484.19 379.30 L484.49 379.68 L484.80 380.00 L485.50 380.54 L486.20 380.87 L486.90 381.01 L487.60 380.95 L488.30 380.70 L488.73 380.48 L489.15 380.24 L489.58 379.94 L490.00 379.56 L490.42 379.06 L490.85 378.42 L491.27 377.61 L491.70 376.60 L491.85 376.20 L492.00 375.79 L492.16 375.36 L492.32 374.92 L492.48 374.46 L492.64 373.98 L492.80 373.48 L492.96 372.97 L493.12 372.44 L493.28 371.89 L493.44 371.32 L493.60 370.73 L493.76 370.12 L493.91 369.49 L494.07 368.83 L494.22 368.16 L494.37 367.46 L494.52 366.74 L494.66 366.00 L494.80 365.24 L494.94 364.45 L495.07 363.64 L495.20 362.80 L495.27 362.33 L495.34 361.84 L495.40 361.34 L495.47 360.83 L495.53 360.30 L495.60 359.77 L495.66 359.22 L495.72 358.66 L495.78 358.10 L495.85 357.52 L495.91 356.94 L495.97 356.34 L496.02 355.74 L496.08 355.13 L496.14 354.52 L496.20 353.90 L496.25 353.27 L496.31 352.64 L496.36 352.01 L496.42 351.37 L496.47 350.73 L496.52 350.08 L496.57 349.43 L496.63 348.79 L496.68 348.14 L496.73 347.49 L496.78 346.84 L496.83 346.19 L496.88 345.54 L496.93 344.90 L496.98 344.25 L497.03 343.61 L497.08 342.98 L497.12 342.34 L497.17 341.72 L497.22 341.09 L497.27 340.48 L497.31 339.87 L497.36 339.26 L497.41 338.67 L497.45 338.08 L497.50 337.50 L497.55 336.87 L497.60 336.24 L497.65 335.61 L497.70 334.98 L497.75 334.36 L497.79 333.74 L497.84 333.12 L497.89 332.51 L497.93 331.89 L497.98 331.28 L498.02 330.67 L498.06 330.07 L498.11 329.46 L498.15 328.86 L498.19 328.25 L498.23 327.65 L498.27 327.05 L498.32 326.45 L498.36 325.86 L498.40 325.26 L498.44 324.66 L498.48 324.07 L498.52 323.47 L498.56 322.88 L498.59 322.28 L498.63 321.68 L498.67 321.09 L498.71 320.49 L498.75 319.90 L498.79 319.30 L498.83 318.71 L498.87 318.11 L498.90 317.51 L498.94 316.91 L498.98 316.31 L499.02 315.71 L499.06 315.10 L499.10 314.50 L499.14 313.89 L499.18 313.27 L499.22 312.65 L499.26 312.02 L499.30 311.39 L499.34 310.75 L499.37 310.10 L499.41 309.46 L499.45 308.81 L499.49 308.15 L499.53 307.50 L499.57 306.84 L499.61 306.19 L499.64 305.53 L499.68 304.88 L499.72 304.23 L499.76 303.57 L499.79 302.93 L499.83 302.28 L499.87 301.64 L499.91 301.00 L499.94 300.37 L499.98 299.75 L500.01 299.13 L500.05 298.52 L500.09 297.91 L500.12 297.32 L500.16 296.73 L500.19 296.15 L500.23 295.59 L500.26 295.03 L500.30 294.49 L500.33 293.96 L500.37 293.44 L500.40 292.93 L500.43 292.44 L500.47 291.96 L500.50 291.50 L500.57 290.63 L500.63 289.83 L500.69 289.09 L500.75 288.41 L500.82 287.77 L500.88 287.18 L500.94 286.62 L500.99 286.09 L501.05 285.58 L501.11 285.08 L501.17 284.59 L501.22 284.10 L501.28 283.59 L501.33 283.08 L501.39 282.53 L501.44 281.96 L501.49 281.36 L501.55 280.70 L501.60 280.00 L501.64 279.47 L501.67 278.92 L501.71 278.34 L501.74 277.75 L501.77 277.13 L501.81 276.50 L501.84 275.86 L501.87 275.20 L501.90 274.54 L501.94 273.87 L501.97 273.19 L502.00 272.51 L502.03 271.84 L502.06 271.16 L502.09 270.49 L502.12 269.83 L502.15 269.18 L502.19 268.54 L502.22 267.91 L502.25 267.31 L502.28 266.72 L502.32 266.15 L502.35 265.60 L502.39 265.08 L502.42 264.59 L502.46 264.13 L502.50 263.70 L502.60 262.66 L502.70 261.76 L502.81 260.98 L502.91 260.31 L503.02 259.73 L503.13 259.24 L503.26 258.81 L503.39 258.44 L503.54 258.10 L503.70 257.80 L504.38 257.52 L505.17 257.89 L505.90 257.80 L506.16 257.47 L506.40 257.08 L506.62 256.60 L506.84 256.03 L507.07 255.35 L507.32 254.54 L507.60 253.60 L507.72 253.17 L507.85 252.71 L507.98 252.23 L508.12 251.72 L508.25 251.19 L508.39 250.64 L508.53 250.07 L508.68 249.48 L508.82 248.87 L508.97 248.25 L509.13 247.61 L509.28 246.97 L509.44 246.31 L509.60 245.64 L509.76 244.97 L509.93 244.29 L510.10 243.60 L510.23 243.08 L510.36 242.56 L510.49 242.01 L510.63 241.46 L510.76 240.90 L510.90 240.33 L511.04 239.75 L511.18 239.16 L511.33 238.57 L511.47 237.97 L511.62 237.36 L511.77 236.76 L511.92 236.15 L512.06 235.54 L512.21 234.94 L512.36 234.33 L512.51 233.72 L512.66 233.12 L512.81 232.53 L512.96 231.93 L513.11 231.35 L513.25 230.77 L513.40 230.20 L513.56 229.58 L513.72 228.95 L513.88 228.31 L514.04 227.68 L514.20 227.04 L514.37 226.40 L514.53 225.76 L514.69 225.12 L514.86 224.48 L515.02 223.85 L515.18 223.23 L515.34 222.61 L515.51 222.00 L515.67 221.40 L515.83 220.81 L516.00 220.24 L516.16 219.68 L516.32 219.13 L516.48 218.60 L516.64 218.09 L516.80 217.60 L517.06 216.82 L517.33 216.05 L517.59 215.30 L517.87 214.56 L518.14 213.85 L518.40 213.17 L518.67 212.54 L518.93 211.95 L519.18 211.42 L519.43 210.96 L519.66 210.56 L519.89 210.24 L520.10 210.00 L520.58 209.68 L520.98 209.75 L521.35 210.24 L521.71 211.17 L522.10 212.60 L522.19 212.98 L522.28 213.38 L522.37 213.81 L522.47 214.27 L522.56 214.74 L522.65 215.24 L522.75 215.77 L522.84 216.31 L522.93 216.88 L523.03 217.47 L523.12 218.08 L523.22 218.71 L523.31 219.36 L523.41 220.03 L523.50 220.72 L523.60 221.42 L523.70 222.14 L523.80 222.88 L523.90 223.63 L524.00 224.40 L524.10 225.19 L524.20 225.99 L524.30 226.80 L524.36 227.29 L524.42 227.80 L524.48 228.32 L524.54 228.86 L524.61 229.41 L524.67 229.97 L524.73 230.55 L524.79 231.13 L524.86 231.73 L524.92 232.33 L524.98 232.95 L525.05 233.57 L525.11 234.20 L525.18 234.83 L525.24 235.47 L525.30 236.12 L525.37 236.76 L525.43 237.41 L525.50 238.07 L525.56 238.72 L525.63 239.38 L525.69 240.03 L525.76 240.68 L525.82 241.33 L525.89 241.98 L525.96 242.63 L526.02 243.27 L526.09 243.90 L526.15 244.53 L526.22 245.15 L526.28 245.76 L526.35 246.37 L526.41 246.97 L526.48 247.55 L526.54 248.13 L526.61 248.69 L526.67 249.24 L526.74 249.78 L526.80 250.30 L526.89 251.02 L526.98 251.74 L527.07 252.46 L527.16 253.18 L527.26 253.90 L527.35 254.62 L527.44 255.33 L527.54 256.03 L527.63 256.73 L527.73 257.42 L527.82 258.10 L527.91 258.77 L528.01 259.42 L528.10 260.07 L528.19 260.70 L528.28 261.31 L528.38 261.91 L528.47 262.49 L528.56 263.05 L528.64 263.59 L528.73 264.10 L528.82 264.60 L528.90 265.06 L528.98 265.51 L529.07 265.92 L529.15 266.31 L529.22 266.67 L529.30 267.00 L529.91 268.87 L530.43 268.98 L531.00 267.80 L531.11 267.51 L531.22 267.18 L531.34 266.82 L531.46 266.42 L531.58 265.99 L531.70 265.53 L531.83 265.03 L531.95 264.49 L532.08 263.92 L532.21 263.31 L532.34 262.66 L532.46 261.97 L532.59 261.24 L532.71 260.48 L532.84 259.67 L532.96 258.82 L533.08 257.93 L533.20 257.00 L533.25 256.55 L533.31 256.07 L533.36 255.57 L533.41 255.05 L533.47 254.51 L533.52 253.95 L533.58 253.37 L533.63 252.78 L533.68 252.17 L533.73 251.54 L533.79 250.91 L533.84 250.26 L533.89 249.61 L533.95 248.94 L534.00 248.27 L534.05 247.60 L534.10 246.91 L534.15 246.23 L534.21 245.54 L534.26 244.86 L534.31 244.17 L534.36 243.49 L534.41 242.81 L534.46 242.13 L534.51 241.46 L534.56 240.80 L534.61 240.15 L534.66 239.51 L534.71 238.88 L534.76 238.26 L534.81 237.66 L534.86 237.07 L534.91 236.50 L534.96 235.95 L535.01 235.41 L535.06 234.90 L535.10 234.41 L535.15 233.94 L535.20 233.50 L535.31 232.49 L535.42 231.56 L535.53 230.70 L535.63 229.90 L535.73 229.16 L535.82 228.47 L535.92 227.84 L536.02 227.24 L536.12 226.69 L536.22 226.17 L536.32 225.68 L536.43 225.22 L536.54 224.77 L536.65 224.34 L536.77 223.92 L536.90 223.50 L537.20 222.66 L537.51 222.01 L537.83 221.51 L538.17 221.11 L538.54 220.78 L538.95 220.45 L539.40 220.10 L539.92 219.72 L540.50 219.36 L541.13 219.02 L541.77 218.72 L542.42 218.46 L543.03 218.25 L543.60 218.10 L544.30 217.96 L544.94 217.91 L545.56 217.95 L546.20 218.10 L546.90 218.40 L547.33 218.63 L547.78 218.92 L548.24 219.26 L548.72 219.63 L549.20 220.03 L549.69 220.46 L550.17 220.90 L550.64 221.35 L551.10 221.80 L551.50 222.19 L551.88 222.57 L552.25 222.93 L552.62 223.31 L552.99 223.71 L553.37 224.15 L553.75 224.63 L554.15 225.17 L554.56 225.79 L555.00 226.50 L555.24 226.92 L555.49 227.36 L555.74 227.84 L556.00 228.35 L556.26 228.88 L556.53 229.43 L556.80 230.00 L557.07 230.58 L557.34 231.17 L557.62 231.77 L557.90 232.37 L558.18 232.97 L558.46 233.57 L558.73 234.16 L559.01 234.74 L559.29 235.31 L559.56 235.86 L559.83 236.39 L560.10 236.90 L560.42 237.49 L560.73 238.07 L561.04 238.66 L561.36 239.23 L561.67 239.81 L561.98 240.37 L562.29 240.93 L562.61 241.47 L562.92 242.01 L563.23 242.53 L563.54 243.04 L563.85 243.53 L564.16 244.00 L564.48 244.46 L564.79 244.89 L565.10 245.30 L565.56 245.86 L566.03 246.37 L566.51 246.85 L566.99 247.28 L567.46 247.69 L567.94 248.07 L568.40 248.42 L568.85 248.76 L569.29 249.08 L569.71 249.39 L570.10 249.70 L570.77 250.06 L571.38 250.15 L571.94 250.18 L572.48 250.36 L572.99 250.90 L573.50 252.00 L573.62 252.36 L573.74 252.75 L573.86 253.16 L573.98 253.60 L574.09 254.07 L574.21 254.55 L574.32 255.06 L574.43 255.59 L574.54 256.14 L574.65 256.72 L574.76 257.31 L574.87 257.91 L574.97 258.54 L575.08 259.18 L575.18 259.84 L575.29 260.51 L575.39 261.20 L575.49 261.90 L575.60 262.61 L575.70 263.34 L575.80 264.07 L575.90 264.82 L576.00 265.57 L576.10 266.33 L576.20 267.10 L576.26 267.60 L576.33 268.11 L576.39 268.62 L576.45 269.15 L576.51 269.68 L576.57 270.22 L576.64 270.77 L576.70 271.32 L576.76 271.88 L576.82 272.45 L576.87 273.02 L576.93 273.60 L576.99 274.19 L577.05 274.78 L577.11 275.38 L577.17 275.98 L577.22 276.58 L577.28 277.19 L577.34 277.81 L577.40 278.43 L577.45 279.05 L577.51 279.68 L577.57 280.31 L577.63 280.94 L577.68 281.57 L577.74 282.21 L577.80 282.85 L577.86 283.49 L577.91 284.14 L577.97 284.78 L578.03 285.43 L578.09 286.07 L578.14 286.72 L578.20 287.37 L578.26 288.01 L578.32 288.66 L578.38 289.31 L578.44 289.95 L578.50 290.60 L578.55 291.17 L578.61 291.75 L578.66 292.33 L578.71 292.91 L578.77 293.50 L578.82 294.09 L578.87 294.68 L578.93 295.27 L578.98 295.87 L579.03 296.46 L579.09 297.07 L579.14 297.67 L579.19 298.27 L579.25 298.88 L579.30 299.49 L579.35 300.10 L579.41 300.71 L579.46 301.32 L579.51 301.94 L579.57 302.55 L579.62 303.17 L579.67 303.79 L579.73 304.41 L579.78 305.03 L579.84 305.65 L579.89 306.27 L579.95 306.89 L580.00 307.51 L580.06 308.13 L580.11 308.75 L580.17 309.37 L580.22 309.99 L580.28 310.62 L580.33 311.24 L580.39 311.86 L580.44 312.48 L580.50 313.10 L580.56 313.71 L580.61 314.33 L580.67 314.95 L580.73 315.56 L580.78 316.18 L580.84 316.79 L580.90 317.40 L580.96 318.00 L581.01 318.62 L581.07 319.24 L581.13 319.87 L581.19 320.51 L581.25 321.16 L581.31 321.82 L581.38 322.48 L581.44 323.15 L581.50 323.82 L581.56 324.50 L581.63 325.18 L581.69 325.86 L581.75 326.54 L581.82 327.23 L581.88 327.91 L581.95 328.60 L582.01 329.28 L582.08 329.96 L582.14 330.64 L582.20 331.31 L582.27 331.98 L582.33 332.64 L582.40 333.30 L582.46 333.95 L582.52 334.59 L582.58 335.23 L582.65 335.85 L582.71 336.47 L582.77 337.07 L582.83 337.66 L582.89 338.24 L582.95 338.81 L583.01 339.36 L583.07 339.90 L583.13 340.42 L583.18 340.93 L583.24 341.42 L583.29 341.89 L583.35 342.34 L583.40 342.78 L583.45 343.19 L583.50 343.58 L583.55 343.95 L583.60 344.30 L583.92 346.38 L584.19 347.67 L584.42 348.31 L584.65 348.44 L584.90 348.19 L585.20 347.70 L585.32 347.49 L585.44 347.25 L585.57 346.98 L585.70 346.68 L585.84 346.33 L585.98 345.94 L586.12 345.51 L586.26 345.02 L586.40 344.47 L586.55 343.86 L586.70 343.19 L586.85 342.46 L587.00 341.65 L587.15 340.76 L587.30 339.79 L587.45 338.74 L587.60 337.60 L587.65 337.19 L587.70 336.77 L587.75 336.33 L587.81 335.87 L587.86 335.41 L587.91 334.93 L587.97 334.44 L588.02 333.94 L588.07 333.43 L588.13 332.90 L588.18 332.37 L588.24 331.82 L588.29 331.26 L588.35 330.70 L588.40 330.12 L588.46 329.54 L588.51 328.95 L588.57 328.35 L588.62 327.74 L588.68 327.13 L588.73 326.51 L588.79 325.88 L588.84 325.25 L588.90 324.61 L588.96 323.97 L589.01 323.32 L589.07 322.67 L589.12 322.01 L589.18 321.35 L589.23 320.69 L589.29 320.02 L589.35 319.36 L589.40 318.69 L589.46 318.02 L589.51 317.34 L589.56 316.67 L589.62 316.00 L589.67 315.32 L589.73 314.65 L589.78 313.98 L589.83 313.31 L589.89 312.64 L589.94 311.97 L589.99 311.31 L590.04 310.65 L590.10 309.99 L590.15 309.34 L590.20 308.69 L590.25 308.04 L590.30 307.40 L590.34 306.83 L590.39 306.24 L590.43 305.65 L590.48 305.05 L590.52 304.45 L590.57 303.83 L590.61 303.21 L590.65 302.59 L590.70 301.96 L590.74 301.32 L590.78 300.68 L590.83 300.03 L590.87 299.38 L590.91 298.73 L590.96 298.07 L591.00 297.41 L591.04 296.75 L591.08 296.09 L591.13 295.42 L591.17 294.76 L591.21 294.09 L591.25 293.42 L591.29 292.76 L591.33 292.09 L591.38 291.43 L591.42 290.77 L591.46 290.11 L591.50 289.45 L591.54 288.80 L591.58 288.14 L591.62 287.50 L591.66 286.85 L591.70 286.21 L591.74 285.58 L591.78 284.95 L591.82 284.33 L591.86 283.71 L591.90 283.11 L591.94 282.50 L591.98 281.91 L592.02 281.32 L592.06 280.75 L592.10 280.18 L592.14 279.62 L592.18 279.07 L592.22 278.53 L592.26 278.00 L592.30 277.49 L592.33 276.98 L592.37 276.49 L592.41 276.01 L592.45 275.54 L592.49 275.08 L592.52 274.64 L592.56 274.21 L592.60 273.80 L592.71 272.65 L592.83 271.58 L592.94 270.59 L593.06 269.68 L593.18 268.84 L593.29 268.06 L593.41 267.34 L593.53 266.69 L593.64 266.08 L593.75 265.53 L593.85 265.02 L593.96 264.55 L594.05 264.11 L594.15 263.71 L594.23 263.33 L594.31 262.97 L594.38 262.64 L594.45 262.31 L594.50 262.00" fill="none" stroke="#141414" stroke-width="1.5" stroke-linejoin="round"/>
<rect x="31.10" y="2.20" width="563.80" height="405.20" fill="none" stroke="#111" stroke-width="1.6"/>
<line x1="31.10" y1="407.40" x2="31.10" y2="415.40" stroke="#111" stroke-width="1.6"/>
<line x1="70.25" y1="407.40" x2="70.25" y2="412.00" stroke="#111" stroke-width="1.6"/>
<line x1="109.41" y1="407.40" x2="109.41" y2="415.40" stroke="#111" stroke-width="1.6"/>
<line x1="148.56" y1="407.40" x2="148.56" y2="412.00" stroke="#111" stroke-width="1.6"/>
<line x1="187.71" y1="407.40" x2="187.71" y2="415.40" stroke="#111" stroke-width="1.6"/>
<line x1="226.86" y1="407.40" x2="226.86" y2="412.00" stroke="#111" stroke-width="1.6"/>
<line x1="266.02" y1="407.40" x2="266.02" y2="415.40" stroke="#111" stroke-width="1.6"/>
<line x1="305.17" y1="407.40" x2="305.17" y2="412.00" stroke="#111" stroke-width="1.6"/>
<line x1="344.32" y1="407.40" x2="344.32" y2="415.40" stroke="#111" stroke-width="1.6"/>
<line x1="383.48" y1="407.40" x2="383.48" y2="412.00" stroke="#111" stroke-width="1.6"/>
<line x1="422.63" y1="407.40" x2="422.63" y2="415.40" stroke="#111" stroke-width="1.6"/>
<line x1="461.78" y1="407.40" x2="461.78" y2="412.00" stroke="#111" stroke-width="1.6"/>
<line x1="500.93" y1="407.40" x2="500.93" y2="415.40" stroke="#111" stroke-width="1.6"/>
<line x1="540.09" y1="407.40" x2="540.09" y2="412.00" stroke="#111" stroke-width="1.6"/>
<line x1="579.24" y1="407.40" x2="579.24" y2="415.40" stroke="#111" stroke-width="1.6"/>
<g font-family="Liberation Serif" font-size="20.2" fill="#111" text-anchor="middle">
<text x="31.70" y="437.6">4000</text>
<text x="110.01" y="437.6">3500</text>
<text x="188.31" y="437.6">3000</text>
<text x="266.62" y="437.6">2500</text>
<text x="344.92" y="437.6">2000</text>
<text x="423.23" y="437.6">1500</text>
<text x="501.53" y="437.6">1000</text>
<text x="579.84" y="437.6">500</text>
</g>
<text x="223.68 245.08 255.10 266.22 275.76 287.04 297.18 315.07 326.17 336.11 352.37 360.24 370.08 399.51" y="471.30" font-family="Liberation Serif" font-size="22.0" fill="#111">Wavenumber[cm]</text>
<text x="388.06 392.70" y="459.60" font-family="Liberation Serif" font-size="12.5" fill="#111">-1</text>
<text transform="translate(17.9 297.6) rotate(-90)" font-family="Liberation Serif" font-size="23.2" fill="#111">% Transmittance</text>
<g font-family="Liberation Serif" font-size="21" fill="#111">
<text x="51.5" y="120.5">a</text>
<text x="52" y="214.6">b</text>
<text x="51.5" y="288.8">c</text>
</g>
<g font-family="Liberation Serif" font-size="14.5" fill="#111">
<text transform="translate(195.00 135.70) rotate(-90)" letter-spacing="0.1">2930</text>
<rect x="182.60" y="35.40" width="17.80" height="65.80" fill="none" stroke="#999" stroke-width="1"/>
<text transform="translate(196.20 68.30) rotate(-90)" text-anchor="middle" font-size="13.6">C–H (CH<tspan font-size="10" dy="2">2</tspan><tspan dy="-2">)</tspan></text>
<text transform="translate(223.30 114.20) rotate(-90)" letter-spacing="0.1">2850</text>
<rect x="209.70" y="13.40" width="18.40" height="65.30" fill="none" stroke="#999" stroke-width="1"/>
<text transform="translate(223.60 46.05) rotate(-90)" text-anchor="middle" font-size="13.6">C–H (CH<tspan font-size="10" dy="2">3</tspan><tspan dy="-2">)</tspan></text>
<text transform="translate(383.90 75.30) rotate(-90)" letter-spacing="0.1">1700</text>
<rect x="371.50" y="10.30" width="15.30" height="31.70" fill="none" stroke="#999" stroke-width="1"/>
<text transform="translate(383.85 26.15) rotate(-90)" text-anchor="middle" font-size="14.1">C=O</text>
<text transform="translate(403.90 92.90) rotate(-90)" letter-spacing="0.1">1645</text>
<rect x="392.50" y="11.30" width="13.80" height="48.80" fill="none" stroke="#999" stroke-width="1"/>
<text transform="translate(404.10 35.70) rotate(-90)" text-anchor="middle" font-size="13.8">Amide I</text>
<text transform="translate(420.90 103.80) rotate(-90)" letter-spacing="0.1">1542</text>
<rect x="410.40" y="18.00" width="15.30" height="51.90" fill="none" stroke="#999" stroke-width="1"/>
<text transform="translate(422.75 43.95) rotate(-90)" text-anchor="middle" font-size="13.8">Amide II</text>
<text transform="translate(444.60 111.60) rotate(-90)" letter-spacing="0.1">1400</text>
<rect x="432.90" y="43.40" width="15.20" height="35.30" fill="none" stroke="#999" stroke-width="1"/>
<text transform="translate(445.20 61.05) rotate(-90)" text-anchor="middle" font-size="14.1">–OH</text>
<text transform="translate(476.60 108.10) rotate(-90)" letter-spacing="0.1">1180</text>
<rect x="465.30" y="27.50" width="14.50" height="47.10" fill="none" stroke="#999" stroke-width="1"/>
<text transform="translate(477.25 51.05) rotate(-90)" text-anchor="middle" font-size="14.1">≡C–O–</text>
<text transform="translate(496.50 107.50) rotate(-90)" letter-spacing="0.1">1070</text>
<rect x="484.20" y="32.60" width="15.80" height="40.80" fill="none" stroke="#999" stroke-width="1"/>
<text transform="translate(496.80 53.00) rotate(-90)" text-anchor="middle" font-size="14.1">≡Si–O</text>
<text transform="translate(517.00 93.90) rotate(-90)" letter-spacing="0.1">960</text>
<rect x="503.40" y="15.00" width="17.20" height="52.40" fill="none" stroke="#999" stroke-width="1"/>
<text transform="translate(516.70 41.20) rotate(-90)" text-anchor="middle" font-size="14.1">≡Si–OH</text>
<text transform="translate(540.50 107.90) rotate(-90)" letter-spacing="0.1">800</text>
<rect x="528.10" y="14.70" width="16.30" height="67.40" fill="none" stroke="#999" stroke-width="1"/>
<text transform="translate(540.95 48.40) rotate(-90)" text-anchor="middle" font-size="14.1">≡Si–O–Si≡</text>
<text transform="translate(584.90 112.80) rotate(-90)" letter-spacing="0.1">460</text>
<rect x="572.30" y="17.80" width="16.40" height="67.90" fill="none" stroke="#999" stroke-width="1"/>
<text transform="translate(585.20 51.75) rotate(-90)" text-anchor="middle" font-size="14.1">≡Si–O–Si≡</text>
</g>
</svg>
</body></html>
